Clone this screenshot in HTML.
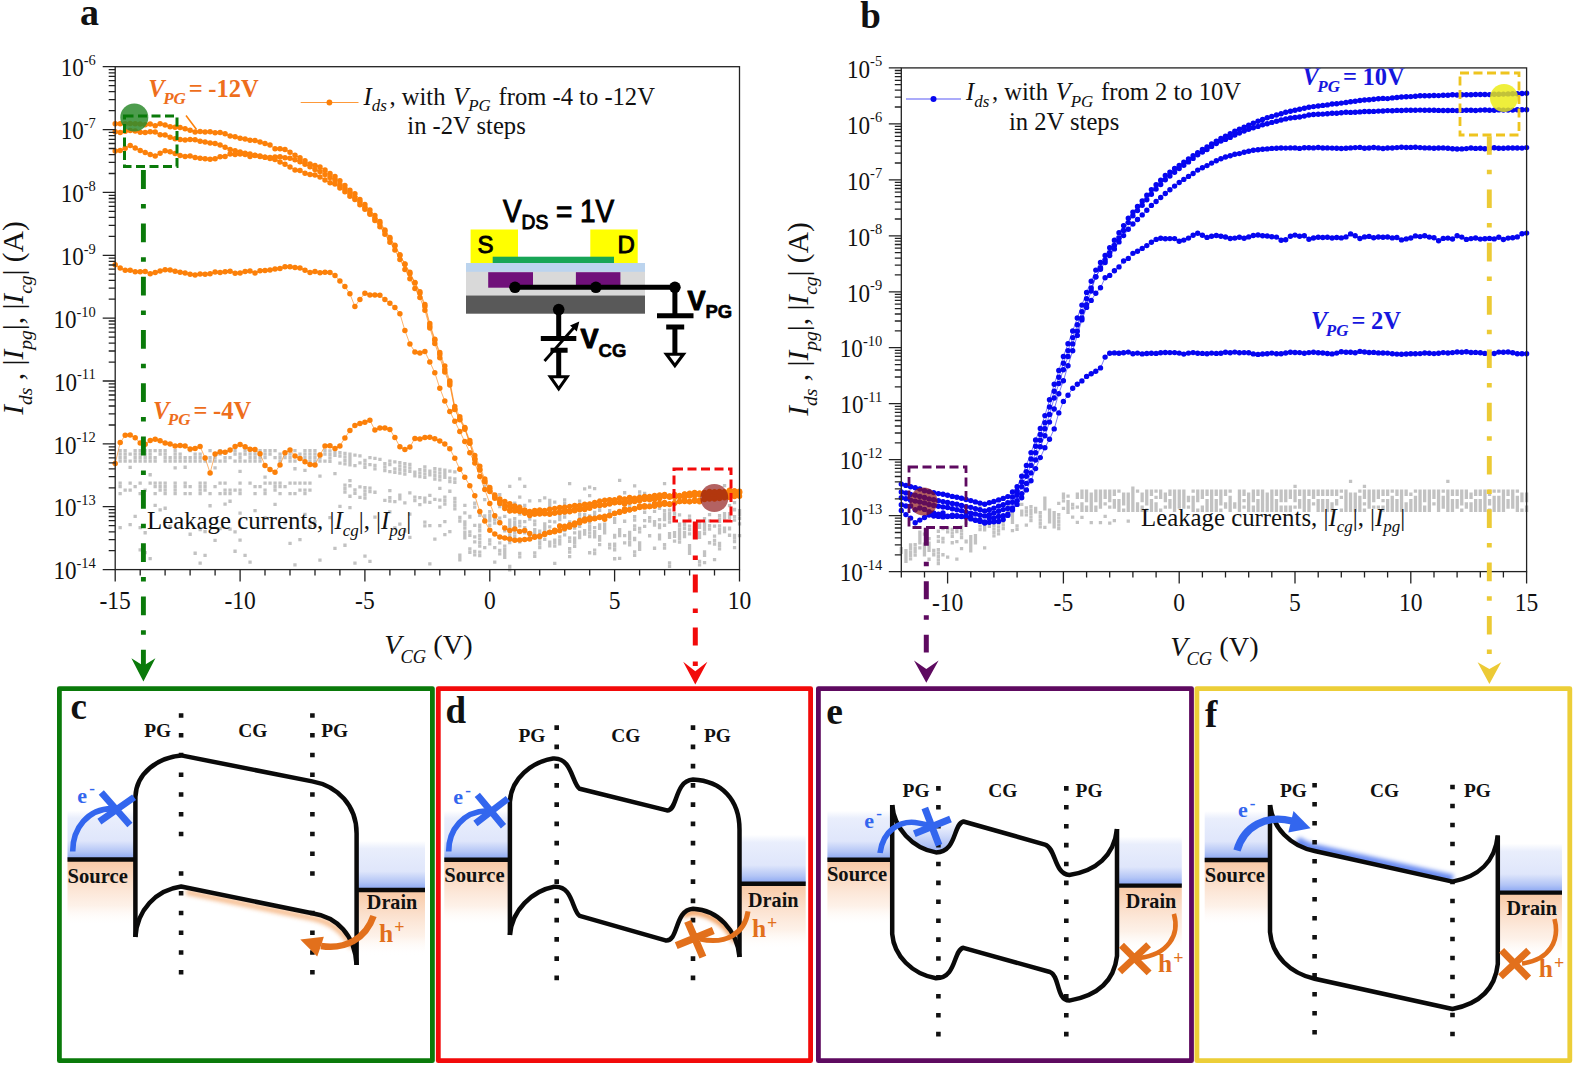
<!DOCTYPE html>
<html><head><meta charset="utf-8"><title>Figure</title>
<style>html,body{margin:0;padding:0;background:#fff}svg{display:block}text{font-family:"Liberation Serif",serif;fill:#111}</style>
</head><body>
<svg width="1575" height="1066" viewBox="0 0 1575 1066">
<g id="plotA">
<path d="M118.5 448.9h3.3v3.3h-3.3zM118.5 452.4h3.3v3.3h-3.3zM118.5 455.9h3.3v3.3h-3.3zM118.5 459.4h3.3v3.3h-3.3zM118.5 481.4h3.3v3.3h-3.3zM118.5 484.9h3.3v3.3h-3.3zM118.5 491.9h3.3v3.3h-3.3zM118.5 525.9h3.3v3.3h-3.3zM123.5 448.9h3.3v3.3h-3.3zM123.5 452.4h3.3v3.3h-3.3zM123.5 455.9h3.3v3.3h-3.3zM123.5 459.4h3.3v3.3h-3.3zM123.5 488.4h3.3v3.3h-3.3zM128.5 452.4h3.3v3.3h-3.3zM128.5 459.4h3.3v3.3h-3.3zM128.5 465.8h3.3v3.3h-3.3zM128.5 481.4h3.3v3.3h-3.3zM128.5 488.4h3.3v3.3h-3.3zM128.5 522.9h3.3v3.3h-3.3zM133.5 448.9h3.3v3.3h-3.3zM133.5 452.4h3.3v3.3h-3.3zM133.5 455.9h3.3v3.3h-3.3zM133.5 459.4h3.3v3.3h-3.3zM133.5 484.9h3.3v3.3h-3.3zM133.5 514.7h3.3v3.3h-3.3zM138.5 448.9h3.3v3.3h-3.3zM138.5 452.4h3.3v3.3h-3.3zM138.5 455.9h3.3v3.3h-3.3zM138.5 459.4h3.3v3.3h-3.3zM138.5 481.4h3.3v3.3h-3.3zM138.5 491.9h3.3v3.3h-3.3zM138.5 525.9h3.3v3.3h-3.3zM138.5 548.3h3.3v3.3h-3.3zM143.5 448.9h3.3v3.3h-3.3zM143.5 452.4h3.3v3.3h-3.3zM143.5 455.9h3.3v3.3h-3.3zM143.5 459.4h3.3v3.3h-3.3zM143.5 488.4h3.3v3.3h-3.3zM143.5 531.1h3.3v3.3h-3.3zM143.5 550.9h3.3v3.3h-3.3zM148.5 448.9h3.3v3.3h-3.3zM148.5 452.4h3.3v3.3h-3.3zM148.5 455.9h3.3v3.3h-3.3zM148.5 459.4h3.3v3.3h-3.3zM148.5 473.1h3.3v3.3h-3.3zM148.5 481.4h3.3v3.3h-3.3zM148.5 556.9h3.3v3.3h-3.3zM153.5 448.9h3.3v3.3h-3.3zM153.5 455.9h3.3v3.3h-3.3zM153.5 459.4h3.3v3.3h-3.3zM153.5 481.4h3.3v3.3h-3.3zM153.5 484.9h3.3v3.3h-3.3zM153.5 491.9h3.3v3.3h-3.3zM153.5 503.7h3.3v3.3h-3.3zM158.5 448.9h3.3v3.3h-3.3zM158.5 452.4h3.3v3.3h-3.3zM158.5 481.4h3.3v3.3h-3.3zM158.5 484.9h3.3v3.3h-3.3zM158.5 488.4h3.3v3.3h-3.3zM158.5 508.3h3.3v3.3h-3.3zM163.5 448.9h3.3v3.3h-3.3zM163.5 452.4h3.3v3.3h-3.3zM163.5 455.9h3.3v3.3h-3.3zM163.5 459.4h3.3v3.3h-3.3zM163.5 481.4h3.3v3.3h-3.3zM163.5 484.9h3.3v3.3h-3.3zM163.5 488.4h3.3v3.3h-3.3zM163.5 491.9h3.3v3.3h-3.3zM163.5 519.4h3.3v3.3h-3.3zM163.5 506.6h3.3v3.3h-3.3zM168.5 455.9h3.3v3.3h-3.3zM168.5 459.4h3.3v3.3h-3.3zM168.5 524.7h3.3v3.3h-3.3zM173.5 448.9h3.3v3.3h-3.3zM173.5 452.4h3.3v3.3h-3.3zM173.5 455.9h3.3v3.3h-3.3zM173.5 459.4h3.3v3.3h-3.3zM173.5 466.3h3.3v3.3h-3.3zM173.5 481.4h3.3v3.3h-3.3zM173.5 484.9h3.3v3.3h-3.3zM173.5 488.4h3.3v3.3h-3.3zM173.5 491.9h3.3v3.3h-3.3zM178.5 452.4h3.3v3.3h-3.3zM178.5 455.9h3.3v3.3h-3.3zM178.5 459.4h3.3v3.3h-3.3zM183.5 455.9h3.3v3.3h-3.3zM183.5 459.4h3.3v3.3h-3.3zM183.5 465.6h3.3v3.3h-3.3zM183.5 481.4h3.3v3.3h-3.3zM183.5 484.9h3.3v3.3h-3.3zM183.5 491.9h3.3v3.3h-3.3zM188.5 448.9h3.3v3.3h-3.3zM188.5 455.9h3.3v3.3h-3.3zM188.5 459.4h3.3v3.3h-3.3zM188.5 484.9h3.3v3.3h-3.3zM188.5 491.9h3.3v3.3h-3.3zM188.5 532.6h3.3v3.3h-3.3zM193.5 452.4h3.3v3.3h-3.3zM193.5 455.9h3.3v3.3h-3.3zM193.5 459.4h3.3v3.3h-3.3zM193.5 551.6h3.3v3.3h-3.3zM198.5 452.4h3.3v3.3h-3.3zM198.5 455.9h3.3v3.3h-3.3zM198.5 459.4h3.3v3.3h-3.3zM198.5 481.4h3.3v3.3h-3.3zM198.5 484.9h3.3v3.3h-3.3zM198.5 488.4h3.3v3.3h-3.3zM198.5 491.9h3.3v3.3h-3.3zM198.5 561.5h3.3v3.3h-3.3zM198.5 527.9h3.3v3.3h-3.3zM203.4 459.4h3.3v3.3h-3.3zM203.4 481.4h3.3v3.3h-3.3zM203.4 484.9h3.3v3.3h-3.3zM203.4 488.4h3.3v3.3h-3.3zM203.4 553.8h3.3v3.3h-3.3zM203.4 530h3.3v3.3h-3.3zM208.4 448.9h3.3v3.3h-3.3zM208.4 455.9h3.3v3.3h-3.3zM208.4 459.4h3.3v3.3h-3.3zM208.4 491.9h3.3v3.3h-3.3zM208.4 504.1h3.3v3.3h-3.3zM213.4 452.4h3.3v3.3h-3.3zM213.4 455.9h3.3v3.3h-3.3zM213.4 459.4h3.3v3.3h-3.3zM213.4 466.3h3.3v3.3h-3.3zM213.4 484.9h3.3v3.3h-3.3zM213.4 538.7h3.3v3.3h-3.3zM218.4 448.9h3.3v3.3h-3.3zM218.4 452.4h3.3v3.3h-3.3zM218.4 459.4h3.3v3.3h-3.3zM218.4 481.4h3.3v3.3h-3.3zM218.4 491.9h3.3v3.3h-3.3zM218.4 527h3.3v3.3h-3.3zM223.4 455.9h3.3v3.3h-3.3zM223.4 459.4h3.3v3.3h-3.3zM223.4 481.4h3.3v3.3h-3.3zM223.4 488.4h3.3v3.3h-3.3zM223.4 491.9h3.3v3.3h-3.3zM223.4 502.4h3.3v3.3h-3.3zM228.4 448.9h3.3v3.3h-3.3zM228.4 455.9h3.3v3.3h-3.3zM228.4 488.4h3.3v3.3h-3.3zM228.4 491.9h3.3v3.3h-3.3zM228.4 499.6h3.3v3.3h-3.3zM228.4 527.4h3.3v3.3h-3.3zM233.4 448.9h3.3v3.3h-3.3zM233.4 452.4h3.3v3.3h-3.3zM233.4 459.4h3.3v3.3h-3.3zM233.4 488.4h3.3v3.3h-3.3zM233.4 530.2h3.3v3.3h-3.3zM233.4 549.6h3.3v3.3h-3.3zM238.4 452.4h3.3v3.3h-3.3zM238.4 455.9h3.3v3.3h-3.3zM238.4 459.4h3.3v3.3h-3.3zM238.4 469.8h3.3v3.3h-3.3zM238.4 481.4h3.3v3.3h-3.3zM238.4 488.4h3.3v3.3h-3.3zM238.4 491.9h3.3v3.3h-3.3zM238.4 538.4h3.3v3.3h-3.3zM238.4 511.5h3.3v3.3h-3.3zM243.4 448.9h3.3v3.3h-3.3zM243.4 452.4h3.3v3.3h-3.3zM243.4 459.4h3.3v3.3h-3.3zM243.4 553.8h3.3v3.3h-3.3zM248.4 448.9h3.3v3.3h-3.3zM248.4 452.4h3.3v3.3h-3.3zM248.4 455.9h3.3v3.3h-3.3zM248.4 459.4h3.3v3.3h-3.3zM248.4 481.4h3.3v3.3h-3.3zM248.4 560.4h3.3v3.3h-3.3zM253.4 448.9h3.3v3.3h-3.3zM253.4 452.4h3.3v3.3h-3.3zM253.4 455.9h3.3v3.3h-3.3zM253.4 459.4h3.3v3.3h-3.3zM253.4 484.9h3.3v3.3h-3.3zM253.4 491.9h3.3v3.3h-3.3zM253.4 509h3.3v3.3h-3.3zM258.4 448.9h3.3v3.3h-3.3zM258.4 452.4h3.3v3.3h-3.3zM258.4 455.9h3.3v3.3h-3.3zM258.4 459.4h3.3v3.3h-3.3zM258.4 484.9h3.3v3.3h-3.3zM263.4 448.9h3.3v3.3h-3.3zM263.4 452.4h3.3v3.3h-3.3zM263.4 455.9h3.3v3.3h-3.3zM263.4 475.4h3.3v3.3h-3.3zM263.4 481.4h3.3v3.3h-3.3zM263.4 488.4h3.3v3.3h-3.3zM263.4 491.9h3.3v3.3h-3.3zM263.4 516.2h3.3v3.3h-3.3zM268.4 448.9h3.3v3.3h-3.3zM268.4 452.4h3.3v3.3h-3.3zM268.4 481.4h3.3v3.3h-3.3zM273.4 448.9h3.3v3.3h-3.3zM273.4 455.9h3.3v3.3h-3.3zM273.4 481.4h3.3v3.3h-3.3zM273.4 484.9h3.3v3.3h-3.3zM273.4 488.4h3.3v3.3h-3.3zM273.4 502.7h3.3v3.3h-3.3zM278.4 452.4h3.3v3.3h-3.3zM278.4 455.9h3.3v3.3h-3.3zM278.4 459.4h3.3v3.3h-3.3zM278.4 481.4h3.3v3.3h-3.3zM278.4 484.9h3.3v3.3h-3.3zM278.4 491.9h3.3v3.3h-3.3zM283.4 452.4h3.3v3.3h-3.3zM283.4 455.9h3.3v3.3h-3.3zM283.4 484.9h3.3v3.3h-3.3zM283.4 521.3h3.3v3.3h-3.3zM288.4 448.9h3.3v3.3h-3.3zM288.4 452.4h3.3v3.3h-3.3zM288.4 455.9h3.3v3.3h-3.3zM288.4 459.4h3.3v3.3h-3.3zM288.4 481.4h3.3v3.3h-3.3zM288.4 491.9h3.3v3.3h-3.3zM288.4 541.7h3.3v3.3h-3.3zM293.3 448.9h3.3v3.3h-3.3zM293.3 459.4h3.3v3.3h-3.3zM293.3 467.1h3.3v3.3h-3.3zM293.3 481.4h3.3v3.3h-3.3zM293.3 491.9h3.3v3.3h-3.3zM293.3 563.2h3.3v3.3h-3.3zM298.3 452.4h3.3v3.3h-3.3zM298.3 455.9h3.3v3.3h-3.3zM298.3 481.4h3.3v3.3h-3.3zM298.3 488.4h3.3v3.3h-3.3zM298.3 537.9h3.3v3.3h-3.3zM303.3 448.9h3.3v3.3h-3.3zM303.3 452.4h3.3v3.3h-3.3zM303.3 455.9h3.3v3.3h-3.3zM303.3 459.4h3.3v3.3h-3.3zM303.3 468.7h3.3v3.3h-3.3zM303.3 481.4h3.3v3.3h-3.3zM303.3 488.4h3.3v3.3h-3.3zM303.3 491.9h3.3v3.3h-3.3zM303.3 512.7h3.3v3.3h-3.3zM308.3 448.9h3.3v3.3h-3.3zM308.3 452.4h3.3v3.3h-3.3zM308.3 455.9h3.3v3.3h-3.3zM308.3 459.4h3.3v3.3h-3.3zM308.3 481.4h3.3v3.3h-3.3zM308.3 488.4h3.3v3.3h-3.3zM308.3 524.7h3.3v3.3h-3.3zM313.3 448.9h3.3v3.3h-3.3zM313.3 452.4h3.3v3.3h-3.3zM313.3 455.9h3.3v3.3h-3.3zM313.3 459.4h3.3v3.3h-3.3zM313.3 524.1h3.3v3.3h-3.3zM313.3 519.9h3.3v3.3h-3.3zM318.3 452.4h3.3v3.3h-3.3zM318.3 455.9h3.3v3.3h-3.3zM318.3 459.4h3.3v3.3h-3.3zM318.3 474.4h3.3v3.3h-3.3zM318.3 558.4h3.3v3.3h-3.3zM323.3 448.9h3.3v3.3h-3.3zM323.3 452.4h3.3v3.3h-3.3zM323.3 459.4h3.3v3.3h-3.3zM328.3 449.3h3.3v3.3h-3.3zM328.3 452.8h3.3v3.3h-3.3zM328.3 456.3h3.3v3.3h-3.3zM328.3 459.8h3.3v3.3h-3.3zM328.3 516h3.3v3.3h-3.3zM333.3 450.1h3.3v3.3h-3.3zM333.3 453.6h3.3v3.3h-3.3zM333.3 471.9h3.3v3.3h-3.3zM333.3 546.7h3.3v3.3h-3.3zM338.3 451h3.3v3.3h-3.3zM338.3 454.5h3.3v3.3h-3.3zM338.3 461.5h3.3v3.3h-3.3zM338.3 504.8h3.3v3.3h-3.3zM343.3 451.8h3.3v3.3h-3.3zM343.3 455.3h3.3v3.3h-3.3zM343.3 458.8h3.3v3.3h-3.3zM343.3 462.3h3.3v3.3h-3.3zM343.3 483.5h3.3v3.3h-3.3zM343.3 487h3.3v3.3h-3.3zM343.3 490.5h3.3v3.3h-3.3zM343.3 543.6h3.3v3.3h-3.3zM348.3 452.6h3.3v3.3h-3.3zM348.3 456.1h3.3v3.3h-3.3zM348.3 459.6h3.3v3.3h-3.3zM348.3 463.1h3.3v3.3h-3.3zM348.3 478.9h3.3v3.3h-3.3zM348.3 484.1h3.3v3.3h-3.3zM348.3 494.6h3.3v3.3h-3.3zM348.3 505.9h3.3v3.3h-3.3zM353.3 453.5h3.3v3.3h-3.3zM353.3 464h3.3v3.3h-3.3zM353.3 488.2h3.3v3.3h-3.3zM353.3 491.7h3.3v3.3h-3.3zM353.3 561.4h3.3v3.3h-3.3zM358.3 454.3h3.3v3.3h-3.3zM358.3 461.3h3.3v3.3h-3.3zM358.3 485.2h3.3v3.3h-3.3zM358.3 495.8h3.3v3.3h-3.3zM363.3 458.7h3.3v3.3h-3.3zM363.3 462.2h3.3v3.3h-3.3zM363.3 465.7h3.3v3.3h-3.3zM363.3 485.9h3.3v3.3h-3.3zM363.3 489.4h3.3v3.3h-3.3zM363.3 492.9h3.3v3.3h-3.3zM363.3 496.4h3.3v3.3h-3.3zM363.3 554.5h3.3v3.3h-3.3zM368.3 456h3.3v3.3h-3.3zM368.3 463h3.3v3.3h-3.3zM368.3 486.5h3.3v3.3h-3.3zM368.3 490h3.3v3.3h-3.3zM368.3 559.8h3.3v3.3h-3.3zM373.3 456.8h3.3v3.3h-3.3zM373.3 463.8h3.3v3.3h-3.3zM373.3 467.3h3.3v3.3h-3.3zM373.3 490.6h3.3v3.3h-3.3zM373.3 515.5h3.3v3.3h-3.3zM378.3 457.7h3.3v3.3h-3.3zM383.2 462h3.3v3.3h-3.3zM383.2 465.5h3.3v3.3h-3.3zM383.2 469h3.3v3.3h-3.3zM383.2 498.8h3.3v3.3h-3.3zM383.2 525.6h3.3v3.3h-3.3zM388.2 459.4h3.3v3.3h-3.3zM388.2 462.9h3.3v3.3h-3.3zM388.2 469.9h3.3v3.3h-3.3zM388.2 488.9h3.3v3.3h-3.3zM388.2 495.9h3.3v3.3h-3.3zM388.2 499.4h3.3v3.3h-3.3zM388.2 510.2h3.3v3.3h-3.3zM393.2 460.2h3.3v3.3h-3.3zM393.2 467.2h3.3v3.3h-3.3zM393.2 470.7h3.3v3.3h-3.3zM393.2 500h3.3v3.3h-3.3zM393.2 526.2h3.3v3.3h-3.3zM398.2 461h3.3v3.3h-3.3zM398.2 464.5h3.3v3.3h-3.3zM398.2 468h3.3v3.3h-3.3zM398.2 471.5h3.3v3.3h-3.3zM398.2 493.6h3.3v3.3h-3.3zM398.2 497.1h3.3v3.3h-3.3zM398.2 522.5h3.3v3.3h-3.3zM403.2 461.9h3.3v3.3h-3.3zM403.2 465.4h3.3v3.3h-3.3zM403.2 468.9h3.3v3.3h-3.3zM403.2 472.4h3.3v3.3h-3.3zM403.2 501.2h3.3v3.3h-3.3zM403.2 529.5h3.3v3.3h-3.3zM408.2 462.7h3.3v3.3h-3.3zM408.2 466.2h3.3v3.3h-3.3zM408.2 469.7h3.3v3.3h-3.3zM408.2 491.2h3.3v3.3h-3.3zM408.2 535.7h3.3v3.3h-3.3zM408.2 512.4h3.3v3.3h-3.3zM413.2 470.6h3.3v3.3h-3.3zM413.2 474.1h3.3v3.3h-3.3zM413.2 495.4h3.3v3.3h-3.3zM413.2 498.9h3.3v3.3h-3.3zM418.2 467.9h3.3v3.3h-3.3zM418.2 471.4h3.3v3.3h-3.3zM418.2 474.9h3.3v3.3h-3.3zM418.2 496h3.3v3.3h-3.3zM418.2 503h3.3v3.3h-3.3zM423.2 465.2h3.3v3.3h-3.3zM423.2 468.7h3.3v3.3h-3.3zM423.2 472.2h3.3v3.3h-3.3zM423.2 475.7h3.3v3.3h-3.3zM423.2 496.6h3.3v3.3h-3.3zM423.2 500.1h3.3v3.3h-3.3zM423.2 520.5h3.3v3.3h-3.3zM423.2 524.2h3.3v3.3h-3.3zM428.2 469.6h3.3v3.3h-3.3zM428.2 473.1h3.3v3.3h-3.3zM428.2 493.7h3.3v3.3h-3.3zM428.2 500.7h3.3v3.3h-3.3zM428.2 523.9h3.3v3.3h-3.3zM428.2 562.2h3.3v3.3h-3.3zM433.2 466.9h3.3v3.3h-3.3zM433.2 470.4h3.3v3.3h-3.3zM433.2 473.9h3.3v3.3h-3.3zM433.2 477.4h3.3v3.3h-3.3zM433.2 497.8h3.3v3.3h-3.3zM433.2 537.4h3.3v3.3h-3.3zM438.2 467.8h3.3v3.3h-3.3zM438.2 471.2h3.3v3.3h-3.3zM438.2 474.8h3.3v3.3h-3.3zM438.2 478.2h3.3v3.3h-3.3zM438.2 486.8h3.3v3.3h-3.3zM438.2 498.4h3.3v3.3h-3.3zM438.2 505.4h3.3v3.3h-3.3zM438.2 524h3.3v3.3h-3.3zM443.2 468.6h3.3v3.3h-3.3zM443.2 472.1h3.3v3.3h-3.3zM443.2 475.6h3.3v3.3h-3.3zM443.2 495.5h3.3v3.3h-3.3zM443.2 499h3.3v3.3h-3.3zM443.2 502.5h3.3v3.3h-3.3zM443.2 520h3.3v3.3h-3.3zM443.2 532.9h3.3v3.3h-3.3zM448.2 469.4h3.3v3.3h-3.3zM448.2 476.4h3.3v3.3h-3.3zM448.2 479.9h3.3v3.3h-3.3zM448.2 489.6h3.3v3.3h-3.3zM448.2 529.9h3.3v3.3h-3.3zM453.2 470.3h3.3v3.3h-3.3zM453.2 477.3h3.3v3.3h-3.3zM453.2 480.8h3.3v3.3h-3.3zM453.2 496.7h3.3v3.3h-3.3zM453.2 500.2h3.3v3.3h-3.3zM453.2 503.7h3.3v3.3h-3.3zM453.2 507.2h3.3v3.3h-3.3zM458.2 515.8h3.3v3.3h-3.3zM458.2 519.3h3.3v3.3h-3.3zM458.2 553.4h3.3v3.3h-3.3zM458.2 556.9h3.3v3.3h-3.3zM458.2 554.6h3.3v3.3h-3.3zM458.2 558.1h3.3v3.3h-3.3zM458.2 519.4h3.3v3.3h-3.3zM463.2 503.7h3.3v3.3h-3.3zM463.2 511.3h3.3v3.3h-3.3zM463.2 523h3.3v3.3h-3.3zM463.2 526.5h3.3v3.3h-3.3zM463.2 536.2h3.3v3.3h-3.3zM463.2 530.8h3.3v3.3h-3.3zM463.2 534.3h3.3v3.3h-3.3zM463.2 530.5h3.3v3.3h-3.3zM463.2 534h3.3v3.3h-3.3zM463.2 520.2h3.3v3.3h-3.3zM468.2 514.7h3.3v3.3h-3.3zM468.2 547.2h3.3v3.3h-3.3zM468.2 550.7h3.3v3.3h-3.3zM468.2 515.4h3.3v3.3h-3.3zM468.2 530.2h3.3v3.3h-3.3zM468.2 533.7h3.3v3.3h-3.3zM473.1 549.7h3.3v3.3h-3.3zM473.1 553.2h3.3v3.3h-3.3zM473.1 535.3h3.3v3.3h-3.3zM473.1 540.3h3.3v3.3h-3.3zM473.1 501.6h3.3v3.3h-3.3zM473.1 505.4h3.3v3.3h-3.3zM473.1 523.8h3.3v3.3h-3.3zM478.1 540.9h3.3v3.3h-3.3zM478.1 544.4h3.3v3.3h-3.3zM478.1 525h3.3v3.3h-3.3zM478.1 528.5h3.3v3.3h-3.3zM478.1 550.4h3.3v3.3h-3.3zM478.1 553.9h3.3v3.3h-3.3zM478.1 533.8h3.3v3.3h-3.3zM478.1 537.3h3.3v3.3h-3.3zM478.1 513.6h3.3v3.3h-3.3zM478.1 523.6h3.3v3.3h-3.3zM478.1 529.2h3.3v3.3h-3.3zM483.1 514.2h3.3v3.3h-3.3zM483.1 517.7h3.3v3.3h-3.3zM483.1 497.9h3.3v3.3h-3.3zM483.1 518h3.3v3.3h-3.3zM483.1 545.9h3.3v3.3h-3.3zM483.1 515.1h3.3v3.3h-3.3zM483.1 518.6h3.3v3.3h-3.3zM483.1 484.8h3.3v3.3h-3.3zM488.1 510h3.3v3.3h-3.3zM488.1 513.5h3.3v3.3h-3.3zM488.1 523.6h3.3v3.3h-3.3zM488.1 513.5h3.3v3.3h-3.3zM488.1 538.3h3.3v3.3h-3.3zM488.1 538.7h3.3v3.3h-3.3zM488.1 542.2h3.3v3.3h-3.3zM488.1 515.8h3.3v3.3h-3.3zM488.1 519.3h3.3v3.3h-3.3zM488.1 514.5h3.3v3.3h-3.3zM488.1 518h3.3v3.3h-3.3zM493.1 514.1h3.3v3.3h-3.3zM493.1 517.6h3.3v3.3h-3.3zM493.1 546h3.3v3.3h-3.3zM493.1 518h3.3v3.3h-3.3zM493.1 521.5h3.3v3.3h-3.3zM493.1 560.4h3.3v3.3h-3.3zM493.1 513.3h3.3v3.3h-3.3zM498.1 505h3.3v3.3h-3.3zM498.1 541.2h3.3v3.3h-3.3zM498.1 548.7h3.3v3.3h-3.3zM498.1 552.2h3.3v3.3h-3.3zM498.1 516.5h3.3v3.3h-3.3zM498.1 520h3.3v3.3h-3.3zM498.1 492.9h3.3v3.3h-3.3zM503.1 550.3h3.3v3.3h-3.3zM503.1 553.8h3.3v3.3h-3.3zM503.1 544.5h3.3v3.3h-3.3zM503.1 548h3.3v3.3h-3.3zM503.1 514.8h3.3v3.3h-3.3zM503.1 552.1h3.3v3.3h-3.3zM503.1 555.6h3.3v3.3h-3.3zM503.1 529.2h3.3v3.3h-3.3zM508.1 518.6h3.3v3.3h-3.3zM508.1 522.1h3.3v3.3h-3.3zM508.1 564.7h3.3v3.3h-3.3zM508.1 568.2h3.3v3.3h-3.3zM508.1 535.9h3.3v3.3h-3.3zM508.1 540.9h3.3v3.3h-3.3zM508.1 521.6h3.3v3.3h-3.3zM508.1 525.1h3.3v3.3h-3.3zM508.1 530.3h3.3v3.3h-3.3zM508.1 533.8h3.3v3.3h-3.3zM508.1 484.8h3.3v3.3h-3.3zM513.1 501.4h3.3v3.3h-3.3zM513.1 504.9h3.3v3.3h-3.3zM513.1 521h3.3v3.3h-3.3zM513.1 531.2h3.3v3.3h-3.3zM513.1 534.7h3.3v3.3h-3.3zM513.1 509.4h3.3v3.3h-3.3zM513.1 521.6h3.3v3.3h-3.3zM513.1 525.1h3.3v3.3h-3.3zM513.1 517.1h3.3v3.3h-3.3zM513.1 517.4h3.3v3.3h-3.3zM518.1 495.4h3.3v3.3h-3.3zM518.1 540.1h3.3v3.3h-3.3zM518.1 520.8h3.3v3.3h-3.3zM518.1 524.3h3.3v3.3h-3.3zM518.1 551.7h3.3v3.3h-3.3zM518.1 555.2h3.3v3.3h-3.3zM518.1 508.9h3.3v3.3h-3.3zM518.1 512.4h3.3v3.3h-3.3zM518.1 504h3.3v3.3h-3.3zM518.1 519.7h3.3v3.3h-3.3zM518.1 477.2h3.3v3.3h-3.3zM523.1 531.3h3.3v3.3h-3.3zM523.1 503.8h3.3v3.3h-3.3zM523.1 520h3.3v3.3h-3.3zM523.1 508.2h3.3v3.3h-3.3zM523.1 511.7h3.3v3.3h-3.3zM523.1 526h3.3v3.3h-3.3zM523.1 484.7h3.3v3.3h-3.3zM528.1 516.9h3.3v3.3h-3.3zM528.1 499.2h3.3v3.3h-3.3zM528.1 517.5h3.3v3.3h-3.3zM528.1 531.1h3.3v3.3h-3.3zM528.1 534.6h3.3v3.3h-3.3zM528.1 534.8h3.3v3.3h-3.3zM533.1 530.3h3.3v3.3h-3.3zM533.1 511.3h3.3v3.3h-3.3zM533.1 527.9h3.3v3.3h-3.3zM533.1 531.4h3.3v3.3h-3.3zM533.1 551.3h3.3v3.3h-3.3zM533.1 554.8h3.3v3.3h-3.3zM533.1 519.5h3.3v3.3h-3.3zM533.1 523h3.3v3.3h-3.3zM538.1 498.9h3.3v3.3h-3.3zM538.1 537.3h3.3v3.3h-3.3zM538.1 540.8h3.3v3.3h-3.3zM538.1 542.5h3.3v3.3h-3.3zM538.1 546h3.3v3.3h-3.3zM538.1 529.4h3.3v3.3h-3.3zM538.1 530.6h3.3v3.3h-3.3zM538.1 534.1h3.3v3.3h-3.3zM543.1 522.2h3.3v3.3h-3.3zM543.1 523.1h3.3v3.3h-3.3zM543.1 526.6h3.3v3.3h-3.3zM543.1 496.3h3.3v3.3h-3.3zM543.1 524.7h3.3v3.3h-3.3zM543.1 528.2h3.3v3.3h-3.3zM543.1 537.7h3.3v3.3h-3.3zM548.1 540.6h3.3v3.3h-3.3zM548.1 544.1h3.3v3.3h-3.3zM548.1 501.8h3.3v3.3h-3.3zM548.1 505.3h3.3v3.3h-3.3zM548.1 519.7h3.3v3.3h-3.3zM548.1 525.3h3.3v3.3h-3.3zM548.1 498.8h3.3v3.3h-3.3zM548.1 502.3h3.3v3.3h-3.3zM553.1 538.5h3.3v3.3h-3.3zM553.1 500.4h3.3v3.3h-3.3zM553.1 520.3h3.3v3.3h-3.3zM553.1 507.5h3.3v3.3h-3.3zM553.1 561.8h3.3v3.3h-3.3zM553.1 540.9h3.3v3.3h-3.3zM553.1 544.4h3.3v3.3h-3.3zM558.1 516.2h3.3v3.3h-3.3zM558.1 539.6h3.3v3.3h-3.3zM558.1 535.3h3.3v3.3h-3.3zM558.1 538.8h3.3v3.3h-3.3zM558.1 542.1h3.3v3.3h-3.3zM558.1 514.4h3.3v3.3h-3.3zM558.1 517.9h3.3v3.3h-3.3zM558.1 530h3.3v3.3h-3.3zM558.1 523.4h3.3v3.3h-3.3zM558.1 526.9h3.3v3.3h-3.3zM563 512h3.3v3.3h-3.3zM563 515.5h3.3v3.3h-3.3zM563 525.4h3.3v3.3h-3.3zM563 528.9h3.3v3.3h-3.3zM563 498.3h3.3v3.3h-3.3zM563 501.8h3.3v3.3h-3.3zM563 509.2h3.3v3.3h-3.3zM563 533.2h3.3v3.3h-3.3zM563 509.7h3.3v3.3h-3.3zM563 506h3.3v3.3h-3.3zM568 554.9h3.3v3.3h-3.3zM568 526h3.3v3.3h-3.3zM568 547h3.3v3.3h-3.3zM568 550.5h3.3v3.3h-3.3zM568 526.6h3.3v3.3h-3.3zM568 536.2h3.3v3.3h-3.3zM568 539.7h3.3v3.3h-3.3zM568 520.2h3.3v3.3h-3.3zM568 523.7h3.3v3.3h-3.3zM568 482h3.3v3.3h-3.3zM573 522.9h3.3v3.3h-3.3zM573 526.4h3.3v3.3h-3.3zM573 536.6h3.3v3.3h-3.3zM573 540.1h3.3v3.3h-3.3zM573 541.2h3.3v3.3h-3.3zM573 544.7h3.3v3.3h-3.3zM573 531.2h3.3v3.3h-3.3zM578 536h3.3v3.3h-3.3zM578 512.8h3.3v3.3h-3.3zM578 516.3h3.3v3.3h-3.3zM578 530.6h3.3v3.3h-3.3zM578 534.1h3.3v3.3h-3.3zM578 519.7h3.3v3.3h-3.3zM578 523.2h3.3v3.3h-3.3zM578 524.7h3.3v3.3h-3.3zM578 499.4h3.3v3.3h-3.3zM578 502.9h3.3v3.3h-3.3zM583 505.3h3.3v3.3h-3.3zM583 508.8h3.3v3.3h-3.3zM583 512.9h3.3v3.3h-3.3zM583 528.9h3.3v3.3h-3.3zM583 532.4h3.3v3.3h-3.3zM583 530.5h3.3v3.3h-3.3zM583 507.4h3.3v3.3h-3.3zM583 514h3.3v3.3h-3.3zM583 517.5h3.3v3.3h-3.3zM583 487.2h3.3v3.3h-3.3zM588 521.3h3.3v3.3h-3.3zM588 524.8h3.3v3.3h-3.3zM588 493.9h3.3v3.3h-3.3zM588 527.7h3.3v3.3h-3.3zM588 531.2h3.3v3.3h-3.3zM588 531.5h3.3v3.3h-3.3zM588 535h3.3v3.3h-3.3zM588 551.1h3.3v3.3h-3.3zM588 514.2h3.3v3.3h-3.3zM588 485.4h3.3v3.3h-3.3zM593 510.7h3.3v3.3h-3.3zM593 514.2h3.3v3.3h-3.3zM593 548.5h3.3v3.3h-3.3zM593 552h3.3v3.3h-3.3zM593 530h3.3v3.3h-3.3zM593 511.4h3.3v3.3h-3.3zM593 514.9h3.3v3.3h-3.3zM593 525.9h3.3v3.3h-3.3zM593 531.6h3.3v3.3h-3.3zM593 535.1h3.3v3.3h-3.3zM593 530h3.3v3.3h-3.3zM593 487h3.3v3.3h-3.3zM598 535h3.3v3.3h-3.3zM598 538.5h3.3v3.3h-3.3zM598 542.9h3.3v3.3h-3.3zM598 523.8h3.3v3.3h-3.3zM598 523.3h3.3v3.3h-3.3zM598 526.8h3.3v3.3h-3.3zM598 505.2h3.3v3.3h-3.3zM598 508.7h3.3v3.3h-3.3zM598 498.6h3.3v3.3h-3.3zM598 502.1h3.3v3.3h-3.3zM598 536.9h3.3v3.3h-3.3zM603 515.1h3.3v3.3h-3.3zM603 522.6h3.3v3.3h-3.3zM603 526.1h3.3v3.3h-3.3zM603 529.6h3.3v3.3h-3.3zM603 531.3h3.3v3.3h-3.3zM608 509.7h3.3v3.3h-3.3zM608 542.7h3.3v3.3h-3.3zM608 546.2h3.3v3.3h-3.3zM608 509.1h3.3v3.3h-3.3zM608 511.1h3.3v3.3h-3.3zM608 514.6h3.3v3.3h-3.3zM613 548.1h3.3v3.3h-3.3zM613 533.8h3.3v3.3h-3.3zM613 557.1h3.3v3.3h-3.3zM613 542.6h3.3v3.3h-3.3zM613 543.9h3.3v3.3h-3.3zM613 547.4h3.3v3.3h-3.3zM613 535.5h3.3v3.3h-3.3zM613 517.1h3.3v3.3h-3.3zM613 520.6h3.3v3.3h-3.3zM618 527.9h3.3v3.3h-3.3zM618 531.4h3.3v3.3h-3.3zM618 497.8h3.3v3.3h-3.3zM618 501.3h3.3v3.3h-3.3zM618 530.4h3.3v3.3h-3.3zM618 533.9h3.3v3.3h-3.3zM618 556.8h3.3v3.3h-3.3zM618 478.7h3.3v3.3h-3.3zM623 534h3.3v3.3h-3.3zM623 501.7h3.3v3.3h-3.3zM623 519.6h3.3v3.3h-3.3zM623 541.2h3.3v3.3h-3.3zM623 491.1h3.3v3.3h-3.3zM628 505.3h3.3v3.3h-3.3zM628 508.8h3.3v3.3h-3.3zM628 505.7h3.3v3.3h-3.3zM628 509.2h3.3v3.3h-3.3zM628 543.2h3.3v3.3h-3.3zM628 531h3.3v3.3h-3.3zM628 530.8h3.3v3.3h-3.3zM628 534.3h3.3v3.3h-3.3zM628 504.8h3.3v3.3h-3.3zM628 508.3h3.3v3.3h-3.3zM628 537.3h3.3v3.3h-3.3zM628 540.8h3.3v3.3h-3.3zM633 514.9h3.3v3.3h-3.3zM633 518.4h3.3v3.3h-3.3zM633 550.3h3.3v3.3h-3.3zM633 553.8h3.3v3.3h-3.3zM633 537.5h3.3v3.3h-3.3zM633 538h3.3v3.3h-3.3zM633 524.2h3.3v3.3h-3.3zM633 527.7h3.3v3.3h-3.3zM633 536.7h3.3v3.3h-3.3zM633 497.5h3.3v3.3h-3.3zM633 484.3h3.3v3.3h-3.3zM638 526.7h3.3v3.3h-3.3zM638 530.2h3.3v3.3h-3.3zM638 544.2h3.3v3.3h-3.3zM638 547.7h3.3v3.3h-3.3zM638 541.2h3.3v3.3h-3.3zM638 544.7h3.3v3.3h-3.3zM638 490.2h3.3v3.3h-3.3zM638 493.7h3.3v3.3h-3.3zM643 491.8h3.3v3.3h-3.3zM643 524.8h3.3v3.3h-3.3zM643 510.6h3.3v3.3h-3.3zM643 518.9h3.3v3.3h-3.3zM648 516h3.3v3.3h-3.3zM648 519.5h3.3v3.3h-3.3zM648 534.2h3.3v3.3h-3.3zM648 505.6h3.3v3.3h-3.3zM648 503.1h3.3v3.3h-3.3zM648 534.1h3.3v3.3h-3.3zM652.9 504.4h3.3v3.3h-3.3zM652.9 546.6h3.3v3.3h-3.3zM652.9 522.1h3.3v3.3h-3.3zM652.9 520h3.3v3.3h-3.3zM652.9 523.5h3.3v3.3h-3.3zM652.9 522.3h3.3v3.3h-3.3zM652.9 509.8h3.3v3.3h-3.3zM657.9 506.8h3.3v3.3h-3.3zM657.9 533.6h3.3v3.3h-3.3zM657.9 497.9h3.3v3.3h-3.3zM657.9 526h3.3v3.3h-3.3zM657.9 523.2h3.3v3.3h-3.3zM657.9 517.9h3.3v3.3h-3.3zM657.9 533.6h3.3v3.3h-3.3zM657.9 537.1h3.3v3.3h-3.3zM662.9 523.6h3.3v3.3h-3.3zM662.9 513.7h3.3v3.3h-3.3zM662.9 517.2h3.3v3.3h-3.3zM662.9 516.9h3.3v3.3h-3.3zM662.9 542.9h3.3v3.3h-3.3zM662.9 546.4h3.3v3.3h-3.3zM662.9 508.9h3.3v3.3h-3.3zM662.9 512.4h3.3v3.3h-3.3zM662.9 518h3.3v3.3h-3.3zM662.9 481.9h3.3v3.3h-3.3zM667.9 514.8h3.3v3.3h-3.3zM667.9 561.3h3.3v3.3h-3.3zM667.9 564.8h3.3v3.3h-3.3zM667.9 532.1h3.3v3.3h-3.3zM667.9 535.6h3.3v3.3h-3.3zM667.9 508.5h3.3v3.3h-3.3zM667.9 512h3.3v3.3h-3.3zM667.9 516.9h3.3v3.3h-3.3zM667.9 520.4h3.3v3.3h-3.3zM672.9 531.1h3.3v3.3h-3.3zM672.9 534.6h3.3v3.3h-3.3zM672.9 511.9h3.3v3.3h-3.3zM672.9 515.4h3.3v3.3h-3.3zM672.9 497.9h3.3v3.3h-3.3zM672.9 501.4h3.3v3.3h-3.3zM672.9 539.4h3.3v3.3h-3.3zM677.9 523.7h3.3v3.3h-3.3zM677.9 527.2h3.3v3.3h-3.3zM677.9 529.6h3.3v3.3h-3.3zM677.9 533.1h3.3v3.3h-3.3zM677.9 536.4h3.3v3.3h-3.3zM677.9 522.4h3.3v3.3h-3.3zM677.9 536.9h3.3v3.3h-3.3zM677.9 540.4h3.3v3.3h-3.3zM677.9 513.2h3.3v3.3h-3.3zM682.9 533.2h3.3v3.3h-3.3zM682.9 523.3h3.3v3.3h-3.3zM682.9 526.8h3.3v3.3h-3.3zM682.9 530.7h3.3v3.3h-3.3zM682.9 534.2h3.3v3.3h-3.3zM682.9 522h3.3v3.3h-3.3zM682.9 534.9h3.3v3.3h-3.3zM687.9 524.5h3.3v3.3h-3.3zM687.9 528h3.3v3.3h-3.3zM687.9 544h3.3v3.3h-3.3zM687.9 532.2h3.3v3.3h-3.3zM687.9 546.9h3.3v3.3h-3.3zM687.9 550.4h3.3v3.3h-3.3zM687.9 493.7h3.3v3.3h-3.3zM687.9 548.1h3.3v3.3h-3.3zM687.9 551.6h3.3v3.3h-3.3zM687.9 514.4h3.3v3.3h-3.3zM687.9 517.9h3.3v3.3h-3.3zM692.9 525.9h3.3v3.3h-3.3zM692.9 529.4h3.3v3.3h-3.3zM692.9 528.3h3.3v3.3h-3.3zM692.9 535.1h3.3v3.3h-3.3zM692.9 531.2h3.3v3.3h-3.3zM692.9 526h3.3v3.3h-3.3zM692.9 529.5h3.3v3.3h-3.3zM697.9 559.7h3.3v3.3h-3.3zM697.9 563.2h3.3v3.3h-3.3zM697.9 525.7h3.3v3.3h-3.3zM697.9 535.8h3.3v3.3h-3.3zM697.9 531.1h3.3v3.3h-3.3zM697.9 534.6h3.3v3.3h-3.3zM697.9 520.4h3.3v3.3h-3.3zM697.9 523.9h3.3v3.3h-3.3zM697.9 491.9h3.3v3.3h-3.3zM702.9 528.5h3.3v3.3h-3.3zM702.9 532h3.3v3.3h-3.3zM702.9 516.9h3.3v3.3h-3.3zM702.9 520.4h3.3v3.3h-3.3zM702.9 553.1h3.3v3.3h-3.3zM702.9 561h3.3v3.3h-3.3zM702.9 523.6h3.3v3.3h-3.3zM702.9 527.1h3.3v3.3h-3.3zM702.9 550.2h3.3v3.3h-3.3zM702.9 553.7h3.3v3.3h-3.3zM707.9 523.9h3.3v3.3h-3.3zM707.9 513h3.3v3.3h-3.3zM707.9 519.2h3.3v3.3h-3.3zM707.9 541.1h3.3v3.3h-3.3zM707.9 523.9h3.3v3.3h-3.3zM707.9 527.4h3.3v3.3h-3.3zM712.9 538.7h3.3v3.3h-3.3zM712.9 538.9h3.3v3.3h-3.3zM712.9 542.4h3.3v3.3h-3.3zM712.9 534.4h3.3v3.3h-3.3zM712.9 557.9h3.3v3.3h-3.3zM712.9 524.4h3.3v3.3h-3.3zM717.9 514h3.3v3.3h-3.3zM717.9 517.5h3.3v3.3h-3.3zM717.9 524.3h3.3v3.3h-3.3zM717.9 527.8h3.3v3.3h-3.3zM717.9 531.1h3.3v3.3h-3.3zM717.9 519.6h3.3v3.3h-3.3zM717.9 543.7h3.3v3.3h-3.3zM717.9 547.2h3.3v3.3h-3.3zM717.9 541.8h3.3v3.3h-3.3zM722.9 526.4h3.3v3.3h-3.3zM722.9 529.9h3.3v3.3h-3.3zM722.9 528.6h3.3v3.3h-3.3zM722.9 512.1h3.3v3.3h-3.3zM722.9 515.6h3.3v3.3h-3.3zM722.9 516.5h3.3v3.3h-3.3zM722.9 528.4h3.3v3.3h-3.3zM722.9 484h3.3v3.3h-3.3zM727.9 512.1h3.3v3.3h-3.3zM727.9 515.6h3.3v3.3h-3.3zM727.9 526.6h3.3v3.3h-3.3zM727.9 533.6h3.3v3.3h-3.3zM727.9 504h3.3v3.3h-3.3zM727.9 527.1h3.3v3.3h-3.3zM732.9 533.8h3.3v3.3h-3.3zM732.9 536.5h3.3v3.3h-3.3zM732.9 540h3.3v3.3h-3.3zM732.9 545.9h3.3v3.3h-3.3zM732.9 515h3.3v3.3h-3.3zM732.9 518.5h3.3v3.3h-3.3zM732.9 507.7h3.3v3.3h-3.3zM732.9 500.9h3.3v3.3h-3.3zM732.9 508.1h3.3v3.3h-3.3zM737.9 509.1h3.3v3.3h-3.3zM737.9 512.6h3.3v3.3h-3.3zM737.9 534h3.3v3.3h-3.3zM737.9 516.6h3.3v3.3h-3.3zM737.9 522.2h3.3v3.3h-3.3z" fill="#c2c2c2"/>
<path d="M115.2 463.5L120.2 442.6L125.2 435.3L130.2 435.1L135.2 437.8L140.2 443L145.2 444.3L150.2 440.6L155.2 439.2L160.1 440.7L165.1 443L170.1 444.1L175.1 446.1L180.1 445.5L185.1 446L190.1 449.1L195.1 448.4L200.1 446.6L205.1 457.9L210.1 472.9L215.1 453.9L220.1 451.9L225.1 452.3L230.1 450L235.1 446.6L240.1 444.4L245.1 446.7L250 449.2L255 449.4L260 453.8L265 465.4L270 469.4L275 472.3L280 465L285 452.8L290 450.1L295 456L300 458.5L305 461.8L310 464.4L315 464.9L320 454.9L325 446.1L330 445.7L335 448.5L339.9 445.9L344.9 437.9L349.9 430.5L354.9 425.6L359.9 423.4L364.9 422.3L369.9 420.3L374.9 430L379.9 428.1L384.9 427.9L389.9 429.6L394.9 437.5L399.9 446.8L404.9 449.4L409.9 447L414.9 438.4L419.9 439L424.9 437.5L429.8 437.2L434.8 438.8L439.8 441L444.8 444L449.8 448.8L454.8 458.3L459.8 469.2L464.8 477.3L469.8 485.7L474.8 495.7L479.8 511.5L484.8 521L489.8 530.2L494.8 533.9L499.8 537L504.8 537.9L509.8 539L514.8 540.3L519.7 539.9L524.7 539.6L529.7 538.9L534.7 537.3L539.7 535.9L544.7 534.5L549.7 532.6L554.7 531.7L559.7 530.4L564.7 528.6L569.7 526.9L574.7 524.9L579.7 522.8L584.7 521.1L589.7 519.8L594.7 518.8L599.7 517.6L604.7 516.2L609.6 515.2L614.6 513.6L619.6 512.4L624.6 511.3L629.6 509.8L634.6 508.4L639.6 507.6L644.6 507.1L649.6 506.6L654.6 506.2L659.6 505L664.6 504.3L669.6 503.7L674.6 502.8L679.6 501.6L684.6 501.5L689.6 501.6L694.6 501.2L699.5 500.2L704.5 499.5L709.5 499.1L714.5 499.1L719.5 498.4L724.5 497.7L729.5 497.4L734.5 496.6L739.5 496.3" fill="none" stroke="#fc8009" stroke-width="0.8" stroke-opacity="0.75"/>
<path d="M115.2 463.5h0M120.2 442.6h0M125.2 435.3h0M130.2 435.1h0M135.2 437.8h0M140.2 443h0M145.2 444.3h0M150.2 440.6h0M155.2 439.2h0M160.1 440.7h0M165.1 443h0M170.1 444.1h0M175.1 446.1h0M180.1 445.5h0M185.1 446h0M190.1 449.1h0M195.1 448.4h0M200.1 446.6h0M205.1 457.9h0M210.1 472.9h0M215.1 453.9h0M220.1 451.9h0M225.1 452.3h0M230.1 450h0M235.1 446.6h0M240.1 444.4h0M245.1 446.7h0M250 449.2h0M255 449.4h0M260 453.8h0M265 465.4h0M270 469.4h0M275 472.3h0M280 465h0M285 452.8h0M290 450.1h0M295 456h0M300 458.5h0M305 461.8h0M310 464.4h0M315 464.9h0M320 454.9h0M325 446.1h0M330 445.7h0M335 448.5h0M339.9 445.9h0M344.9 437.9h0M349.9 430.5h0M354.9 425.6h0M359.9 423.4h0M364.9 422.3h0M369.9 420.3h0M374.9 430h0M379.9 428.1h0M384.9 427.9h0M389.9 429.6h0M394.9 437.5h0M399.9 446.8h0M404.9 449.4h0M409.9 447h0M414.9 438.4h0M419.9 439h0M424.9 437.5h0M429.8 437.2h0M434.8 438.8h0M439.8 441h0M444.8 444h0M449.8 448.8h0M454.8 458.3h0M459.8 469.2h0M464.8 477.3h0M469.8 485.7h0M474.8 495.7h0M479.8 511.5h0M484.8 521h0M489.8 530.2h0M494.8 533.9h0M499.8 537h0M504.8 537.9h0M509.8 539h0M514.8 540.3h0M519.7 539.9h0M524.7 539.6h0M529.7 538.9h0M534.7 537.3h0M539.7 535.9h0M544.7 534.5h0M549.7 532.6h0M554.7 531.7h0M559.7 530.4h0M564.7 528.6h0M569.7 526.9h0M574.7 524.9h0M579.7 522.8h0M584.7 521.1h0M589.7 519.8h0M594.7 518.8h0M599.7 517.6h0M604.7 516.2h0M609.6 515.2h0M614.6 513.6h0M619.6 512.4h0M624.6 511.3h0M629.6 509.8h0M634.6 508.4h0M639.6 507.6h0M644.6 507.1h0M649.6 506.6h0M654.6 506.2h0M659.6 505h0M664.6 504.3h0M669.6 503.7h0M674.6 502.8h0M679.6 501.6h0M684.6 501.5h0M689.6 501.6h0M694.6 501.2h0M699.5 500.2h0M704.5 499.5h0M709.5 499.1h0M714.5 499.1h0M719.5 498.4h0M724.5 497.7h0M729.5 497.4h0M734.5 496.6h0M739.5 496.3h0" fill="none" stroke="#fc8009" stroke-width="5.5" stroke-linecap="round"/>
<path d="M115.2 264.7L120.2 268L125.2 270.3L130.2 270.2L135.2 271.8L140.2 271.8L145.2 271.5L150.2 273.7L155.2 272.5L160.1 271L165.1 269.7L170.1 269.9L175.1 271.2L180.1 272.2L185.1 273.1L190.1 274.3L195.1 274.9L200.1 274L205.1 274.3L210.1 273.7L215.1 271.9L220.1 272.4L225.1 271.8L230.1 271.2L235.1 273.2L240.1 273.1L245.1 271.5L250 271.1L255 272.9L260 270.8L265 270.5L270 269.9L275 269.1L280 268.5L285 266.7L290 266.7L295 267.5L300 268.1L305 270.2L310 272.6L315 271.5L320 272.8L325 272.2L330 272.4L335 275.4L339.9 280.9L344.9 286.6L349.9 293.8L354.9 306.5L359.9 299.4L364.9 293.2L369.9 295.1L374.9 295.1L379.9 295.3L384.9 299.4L389.9 303.3L394.9 307.4L399.9 313.7L404.9 330.5L409.9 343.9L414.9 351.9L419.9 353.1L424.9 351.6L429.8 361.9L434.8 372.7L439.8 388.3L444.8 400.9L449.8 411.4L454.8 421.3L459.8 431.5L464.8 441.6L469.8 452.8L474.8 463.1L479.8 476.6L484.8 489.5L489.8 503.4L494.8 515.8L499.8 522.8L504.8 527.9L509.8 530.4L514.8 528.9L519.7 531.6L524.7 530.6L529.7 533.5L534.7 536.6L539.7 536.6L544.7 533.5L549.7 532.2L554.7 530.2L559.7 526.1L564.7 526.3L569.7 524.7L574.7 523.1L579.7 520.4L584.7 519L589.7 518L594.7 518.3L599.7 516.9L604.7 519.2L609.6 515.7L614.6 513.2L619.6 511.4L624.6 509L629.6 509.7L634.6 508.9L639.6 506.1L644.6 505.7L649.6 506.4L654.6 503.6L659.6 503.3L664.6 502.4L669.6 504.5L674.6 503.3L679.6 501.5L684.6 500.1L689.6 501.8L694.6 500L699.5 501.8L704.5 498.2L709.5 497.5L714.5 496.7L719.5 495.5L724.5 495.1L729.5 495.7L734.5 494.3L739.5 492.3" fill="none" stroke="#fc8009" stroke-width="0.8" stroke-opacity="0.75"/>
<path d="M115.2 264.7h0M120.2 268h0M125.2 270.3h0M130.2 270.2h0M135.2 271.8h0M140.2 271.8h0M145.2 271.5h0M150.2 273.7h0M155.2 272.5h0M160.1 271h0M165.1 269.7h0M170.1 269.9h0M175.1 271.2h0M180.1 272.2h0M185.1 273.1h0M190.1 274.3h0M195.1 274.9h0M200.1 274h0M205.1 274.3h0M210.1 273.7h0M215.1 271.9h0M220.1 272.4h0M225.1 271.8h0M230.1 271.2h0M235.1 273.2h0M240.1 273.1h0M245.1 271.5h0M250 271.1h0M255 272.9h0M260 270.8h0M265 270.5h0M270 269.9h0M275 269.1h0M280 268.5h0M285 266.7h0M290 266.7h0M295 267.5h0M300 268.1h0M305 270.2h0M310 272.6h0M315 271.5h0M320 272.8h0M325 272.2h0M330 272.4h0M335 275.4h0M339.9 280.9h0M344.9 286.6h0M349.9 293.8h0M354.9 306.5h0M359.9 299.4h0M364.9 293.2h0M369.9 295.1h0M374.9 295.1h0M379.9 295.3h0M384.9 299.4h0M389.9 303.3h0M394.9 307.4h0M399.9 313.7h0M404.9 330.5h0M409.9 343.9h0M414.9 351.9h0M419.9 353.1h0M424.9 351.6h0M429.8 361.9h0M434.8 372.7h0M439.8 388.3h0M444.8 400.9h0M449.8 411.4h0M454.8 421.3h0M459.8 431.5h0M464.8 441.6h0M469.8 452.8h0M474.8 463.1h0M479.8 476.6h0M484.8 489.5h0M489.8 503.4h0M494.8 515.8h0M499.8 522.8h0M504.8 527.9h0M509.8 530.4h0M514.8 528.9h0M519.7 531.6h0M524.7 530.6h0M529.7 533.5h0M534.7 536.6h0M539.7 536.6h0M544.7 533.5h0M549.7 532.2h0M554.7 530.2h0M559.7 526.1h0M564.7 526.3h0M569.7 524.7h0M574.7 523.1h0M579.7 520.4h0M584.7 519h0M589.7 518h0M594.7 518.3h0M599.7 516.9h0M604.7 519.2h0M609.6 515.7h0M614.6 513.2h0M619.6 511.4h0M624.6 509h0M629.6 509.7h0M634.6 508.9h0M639.6 506.1h0M644.6 505.7h0M649.6 506.4h0M654.6 503.6h0M659.6 503.3h0M664.6 502.4h0M669.6 504.5h0M674.6 503.3h0M679.6 501.5h0M684.6 500.1h0M689.6 501.8h0M694.6 500h0M699.5 501.8h0M704.5 498.2h0M709.5 497.5h0M714.5 496.7h0M719.5 495.5h0M724.5 495.1h0M729.5 495.7h0M734.5 494.3h0M739.5 492.3h0" fill="none" stroke="#fc8009" stroke-width="5.5" stroke-linecap="round"/>
<path d="M115.2 150.9L120.2 150.6L125.2 148.2L130.2 145.5L135.2 148L140.2 150.5L145.2 152.6L150.2 154.6L155.2 156L160.1 153.3L165.1 150.8L170.1 151.8L175.1 153.4L180.1 155.4L185.1 156.5L190.1 156.1L195.1 157.6L200.1 158.3L205.1 158.8L210.1 159.2L215.1 158.7L220.1 156.7L225.1 156.6L230.1 154.1L235.1 154.4L240.1 154L245.1 154.5L250 156.4L255 155.2L260 156.6L265 157.2L270 158.4L275 159.5L280 161.9L285 164.3L290 167.1L295 170.1L300 170.5L305 173.3L310 174.4L315 174.9L320 176.9L325 180L330 182.8L335 184.1L339.9 187.9L344.9 191.8L349.9 196.3L354.9 199.6L359.9 204.7L364.9 209.2L369.9 214.3L374.9 220.6L379.9 226.7L384.9 234.2L389.9 242.3L394.9 250L399.9 259.5L404.9 269.4L409.9 278.8L414.9 288.6L419.9 297.5L424.9 310.3L429.8 327.9L434.8 343.5L439.8 357.7L444.8 372.1L449.8 385L454.8 409.2L459.8 419.2L464.8 428.3L469.8 443.3L474.8 458.9L479.8 469.6L484.8 481.3L489.8 491.4L494.8 498.2L499.8 503.5L504.8 508.5L509.8 511.1L514.8 511.1L519.7 511.5L524.7 513.2L529.7 515.5L534.7 514.3L539.7 513.9L544.7 513.3L549.7 514.3L554.7 512.9L559.7 512.6L564.7 512.1L569.7 511.8L574.7 510.7L579.7 509.7L584.7 509.4L589.7 508.3L594.7 506.1L599.7 504.9L604.7 505L609.6 504.1L614.6 502.8L619.6 502.1L624.6 503.9L629.6 502.3L634.6 501.5L639.6 500.8L644.6 499.6L649.6 499.7L654.6 499.3L659.6 498.5L664.6 496.5L669.6 497.2L674.6 497.2L679.6 496.4L684.6 493.9L689.6 494.1L694.6 493.2L699.5 493.2L704.5 492.8L709.5 492.2L714.5 493L719.5 492.7L724.5 493.1L729.5 491.6L734.5 491.1L739.5 491.8" fill="none" stroke="#fc8009" stroke-width="0.8" stroke-opacity="0.75"/>
<path d="M115.2 150.9h0M120.2 150.6h0M125.2 148.2h0M130.2 145.5h0M135.2 148h0M140.2 150.5h0M145.2 152.6h0M150.2 154.6h0M155.2 156h0M160.1 153.3h0M165.1 150.8h0M170.1 151.8h0M175.1 153.4h0M180.1 155.4h0M185.1 156.5h0M190.1 156.1h0M195.1 157.6h0M200.1 158.3h0M205.1 158.8h0M210.1 159.2h0M215.1 158.7h0M220.1 156.7h0M225.1 156.6h0M230.1 154.1h0M235.1 154.4h0M240.1 154h0M245.1 154.5h0M250 156.4h0M255 155.2h0M260 156.6h0M265 157.2h0M270 158.4h0M275 159.5h0M280 161.9h0M285 164.3h0M290 167.1h0M295 170.1h0M300 170.5h0M305 173.3h0M310 174.4h0M315 174.9h0M320 176.9h0M325 180h0M330 182.8h0M335 184.1h0M339.9 187.9h0M344.9 191.8h0M349.9 196.3h0M354.9 199.6h0M359.9 204.7h0M364.9 209.2h0M369.9 214.3h0M374.9 220.6h0M379.9 226.7h0M384.9 234.2h0M389.9 242.3h0M394.9 250h0M399.9 259.5h0M404.9 269.4h0M409.9 278.8h0M414.9 288.6h0M419.9 297.5h0M424.9 310.3h0M429.8 327.9h0M434.8 343.5h0M439.8 357.7h0M444.8 372.1h0M449.8 385h0M454.8 409.2h0M459.8 419.2h0M464.8 428.3h0M469.8 443.3h0M474.8 458.9h0M479.8 469.6h0M484.8 481.3h0M489.8 491.4h0M494.8 498.2h0M499.8 503.5h0M504.8 508.5h0M509.8 511.1h0M514.8 511.1h0M519.7 511.5h0M524.7 513.2h0M529.7 515.5h0M534.7 514.3h0M539.7 513.9h0M544.7 513.3h0M549.7 514.3h0M554.7 512.9h0M559.7 512.6h0M564.7 512.1h0M569.7 511.8h0M574.7 510.7h0M579.7 509.7h0M584.7 509.4h0M589.7 508.3h0M594.7 506.1h0M599.7 504.9h0M604.7 505h0M609.6 504.1h0M614.6 502.8h0M619.6 502.1h0M624.6 503.9h0M629.6 502.3h0M634.6 501.5h0M639.6 500.8h0M644.6 499.6h0M649.6 499.7h0M654.6 499.3h0M659.6 498.5h0M664.6 496.5h0M669.6 497.2h0M674.6 497.2h0M679.6 496.4h0M684.6 493.9h0M689.6 494.1h0M694.6 493.2h0M699.5 493.2h0M704.5 492.8h0M709.5 492.2h0M714.5 493h0M719.5 492.7h0M724.5 493.1h0M729.5 491.6h0M734.5 491.1h0M739.5 491.8h0" fill="none" stroke="#fc8009" stroke-width="5.5" stroke-linecap="round"/>
<path d="M115.2 131.8L120.2 132.4L125.2 131.3L130.2 130.4L135.2 131.1L140.2 132.2L145.2 132.4L150.2 131.8L155.2 132.1L160.1 134.7L165.1 134.9L170.1 137.2L175.1 138.7L180.1 139.5L185.1 140.1L190.1 139.6L195.1 139.8L200.1 141.2L205.1 142L210.1 143L215.1 143.6L220.1 145.1L225.1 147.3L230.1 149.4L235.1 150.7L240.1 152L245.1 153.2L250 154.1L255 155.4L260 155.9L265 157.3L270 157.6L275 156.9L280 156.8L285 157.7L290 158.2L295 159.7L300 161.7L305 164.3L310 166.8L315 169.6L320 171.5L325 174.4L330 177.5L335 180L339.9 185.3L344.9 188.8L349.9 192.9L354.9 197.3L359.9 201.8L364.9 207.3L369.9 213L374.9 218.4L379.9 223.6L384.9 231.2L389.9 239.1L394.9 246.1L399.9 255.5L404.9 264.3L409.9 273.7L414.9 282.9L419.9 293.2L424.9 306.6L429.8 325.9L434.8 340.3L439.8 354.5L444.8 369.5L449.8 382.8L454.8 409.5L459.8 419.7L464.8 429.3L469.8 443.1L474.8 458.9L479.8 470.1L484.8 481.7L489.8 489.4L494.8 496.4L499.8 501.6L504.8 505.4L509.8 506.9L514.8 508.6L519.7 510.4L524.7 511.1L529.7 512.2L534.7 512.5L539.7 513.3L544.7 513.7L549.7 513.2L554.7 513L559.7 511.6L564.7 510.2L569.7 510.8L574.7 509.1L579.7 508.4L584.7 507.7L589.7 506.8L594.7 505.9L599.7 505.4L604.7 504.7L609.6 503.2L614.6 502.4L619.6 502.5L624.6 502.1L629.6 500.9L634.6 500.3L639.6 499.1L644.6 498L649.6 497.7L654.6 498.6L659.6 497.5L664.6 495.8L669.6 496L674.6 495.7L679.6 496.3L684.6 496.9L689.6 496.1L694.6 495.7L699.5 494.7L704.5 495.3L709.5 494.3L714.5 494L719.5 495.2L724.5 493.8L729.5 493.4L734.5 493L739.5 492.9" fill="none" stroke="#fc8009" stroke-width="0.8" stroke-opacity="0.75"/>
<path d="M115.2 131.8h0M120.2 132.4h0M125.2 131.3h0M130.2 130.4h0M135.2 131.1h0M140.2 132.2h0M145.2 132.4h0M150.2 131.8h0M155.2 132.1h0M160.1 134.7h0M165.1 134.9h0M170.1 137.2h0M175.1 138.7h0M180.1 139.5h0M185.1 140.1h0M190.1 139.6h0M195.1 139.8h0M200.1 141.2h0M205.1 142h0M210.1 143h0M215.1 143.6h0M220.1 145.1h0M225.1 147.3h0M230.1 149.4h0M235.1 150.7h0M240.1 152h0M245.1 153.2h0M250 154.1h0M255 155.4h0M260 155.9h0M265 157.3h0M270 157.6h0M275 156.9h0M280 156.8h0M285 157.7h0M290 158.2h0M295 159.7h0M300 161.7h0M305 164.3h0M310 166.8h0M315 169.6h0M320 171.5h0M325 174.4h0M330 177.5h0M335 180h0M339.9 185.3h0M344.9 188.8h0M349.9 192.9h0M354.9 197.3h0M359.9 201.8h0M364.9 207.3h0M369.9 213h0M374.9 218.4h0M379.9 223.6h0M384.9 231.2h0M389.9 239.1h0M394.9 246.1h0M399.9 255.5h0M404.9 264.3h0M409.9 273.7h0M414.9 282.9h0M419.9 293.2h0M424.9 306.6h0M429.8 325.9h0M434.8 340.3h0M439.8 354.5h0M444.8 369.5h0M449.8 382.8h0M454.8 409.5h0M459.8 419.7h0M464.8 429.3h0M469.8 443.1h0M474.8 458.9h0M479.8 470.1h0M484.8 481.7h0M489.8 489.4h0M494.8 496.4h0M499.8 501.6h0M504.8 505.4h0M509.8 506.9h0M514.8 508.6h0M519.7 510.4h0M524.7 511.1h0M529.7 512.2h0M534.7 512.5h0M539.7 513.3h0M544.7 513.7h0M549.7 513.2h0M554.7 513h0M559.7 511.6h0M564.7 510.2h0M569.7 510.8h0M574.7 509.1h0M579.7 508.4h0M584.7 507.7h0M589.7 506.8h0M594.7 505.9h0M599.7 505.4h0M604.7 504.7h0M609.6 503.2h0M614.6 502.4h0M619.6 502.5h0M624.6 502.1h0M629.6 500.9h0M634.6 500.3h0M639.6 499.1h0M644.6 498h0M649.6 497.7h0M654.6 498.6h0M659.6 497.5h0M664.6 495.8h0M669.6 496h0M674.6 495.7h0M679.6 496.3h0M684.6 496.9h0M689.6 496.1h0M694.6 495.7h0M699.5 494.7h0M704.5 495.3h0M709.5 494.3h0M714.5 494h0M719.5 495.2h0M724.5 493.8h0M729.5 493.4h0M734.5 493h0M739.5 492.9h0" fill="none" stroke="#fc8009" stroke-width="5.5" stroke-linecap="round"/>
<path d="M115.2 123.8L120.2 123.8L125.2 123.8L130.2 123.5L135.2 123.8L140.2 123.9L145.2 124.7L150.2 123.9L155.2 125.7L160.1 123.8L165.1 125.1L170.1 126.7L175.1 127.2L180.1 127.6L185.1 128.7L190.1 130.3L195.1 132L200.1 131.6L205.1 132L210.1 131.7L215.1 132.7L220.1 132.4L225.1 133.8L230.1 135.9L235.1 136.8L240.1 138.2L245.1 138.9L250 140.2L255 140.5L260 141.9L265 143.5L270 145.1L275 148.8L280 148.7L285 149.4L290 152.2L295 155.3L300 157.7L305 160.8L310 164.1L315 165.5L320 167.1L325 169.9L330 173.6L335 176.5L339.9 180.8L344.9 185.6L349.9 190.3L354.9 193.7L359.9 199.5L364.9 204.5L369.9 210.1L374.9 215.5L379.9 221.4L384.9 229.9L389.9 237.4L394.9 245.3L399.9 254.7L404.9 263.9L409.9 272.3L414.9 282.4L419.9 291.7L424.9 304.6L429.8 323.5L434.8 339.3L439.8 352.6L444.8 366.1L449.8 380.9L454.8 406.4L459.8 416.7L464.8 427.6L469.8 440.6L474.8 455.4L479.8 466.3L484.8 479.1L489.8 487.4L494.8 495L499.8 498.9L504.8 501.6L509.8 503.8L514.8 506L519.7 507.4L524.7 510L529.7 511.5L534.7 510.4L539.7 510.1L544.7 510.4L549.7 509.3L554.7 508.6L559.7 507.6L564.7 507.2L569.7 506.6L574.7 505.4L579.7 505.6L584.7 504.3L589.7 504L594.7 502.4L599.7 501.2L604.7 500.3L609.6 499.7L614.6 499.8L619.6 498L624.6 499L629.6 497.5L634.6 498.2L639.6 497.5L644.6 496.5L649.6 496.6L654.6 495.5L659.6 495L664.6 494.6L669.6 496.2L674.6 494.6L679.6 495.4L684.6 494.3L689.6 493.3L694.6 492.6L699.5 493.2L704.5 492.4L709.5 491.5L714.5 491.7L719.5 491.5L724.5 491.7L729.5 490.3L734.5 491.1L739.5 491.2" fill="none" stroke="#fc8009" stroke-width="0.8" stroke-opacity="0.75"/>
<path d="M115.2 123.8h0M120.2 123.8h0M125.2 123.8h0M130.2 123.5h0M135.2 123.8h0M140.2 123.9h0M145.2 124.7h0M150.2 123.9h0M155.2 125.7h0M160.1 123.8h0M165.1 125.1h0M170.1 126.7h0M175.1 127.2h0M180.1 127.6h0M185.1 128.7h0M190.1 130.3h0M195.1 132h0M200.1 131.6h0M205.1 132h0M210.1 131.7h0M215.1 132.7h0M220.1 132.4h0M225.1 133.8h0M230.1 135.9h0M235.1 136.8h0M240.1 138.2h0M245.1 138.9h0M250 140.2h0M255 140.5h0M260 141.9h0M265 143.5h0M270 145.1h0M275 148.8h0M280 148.7h0M285 149.4h0M290 152.2h0M295 155.3h0M300 157.7h0M305 160.8h0M310 164.1h0M315 165.5h0M320 167.1h0M325 169.9h0M330 173.6h0M335 176.5h0M339.9 180.8h0M344.9 185.6h0M349.9 190.3h0M354.9 193.7h0M359.9 199.5h0M364.9 204.5h0M369.9 210.1h0M374.9 215.5h0M379.9 221.4h0M384.9 229.9h0M389.9 237.4h0M394.9 245.3h0M399.9 254.7h0M404.9 263.9h0M409.9 272.3h0M414.9 282.4h0M419.9 291.7h0M424.9 304.6h0M429.8 323.5h0M434.8 339.3h0M439.8 352.6h0M444.8 366.1h0M449.8 380.9h0M454.8 406.4h0M459.8 416.7h0M464.8 427.6h0M469.8 440.6h0M474.8 455.4h0M479.8 466.3h0M484.8 479.1h0M489.8 487.4h0M494.8 495h0M499.8 498.9h0M504.8 501.6h0M509.8 503.8h0M514.8 506h0M519.7 507.4h0M524.7 510h0M529.7 511.5h0M534.7 510.4h0M539.7 510.1h0M544.7 510.4h0M549.7 509.3h0M554.7 508.6h0M559.7 507.6h0M564.7 507.2h0M569.7 506.6h0M574.7 505.4h0M579.7 505.6h0M584.7 504.3h0M589.7 504h0M594.7 502.4h0M599.7 501.2h0M604.7 500.3h0M609.6 499.7h0M614.6 499.8h0M619.6 498h0M624.6 499h0M629.6 497.5h0M634.6 498.2h0M639.6 497.5h0M644.6 496.5h0M649.6 496.6h0M654.6 495.5h0M659.6 495h0M664.6 494.6h0M669.6 496.2h0M674.6 494.6h0M679.6 495.4h0M684.6 494.3h0M689.6 493.3h0M694.6 492.6h0M699.5 493.2h0M704.5 492.4h0M709.5 491.5h0M714.5 491.7h0M719.5 491.5h0M724.5 491.7h0M729.5 490.3h0M734.5 491.1h0M739.5 491.2h0" fill="none" stroke="#fc8009" stroke-width="5.5" stroke-linecap="round"/>
<rect x="115.2" y="66.7" width="624.3" height="502.9" fill="none" stroke="#222" stroke-width="1.3"/>
<text transform="translate(95.8,76.4) scale(0.93,1)" text-anchor="end" font-size="24.8">10<tspan font-size="15.6" dy="-11.4">-6</tspan></text>
<text transform="translate(95.8,139.3) scale(0.93,1)" text-anchor="end" font-size="24.8">10<tspan font-size="15.6" dy="-11.4">-7</tspan></text>
<text transform="translate(95.8,202.1) scale(0.93,1)" text-anchor="end" font-size="24.8">10<tspan font-size="15.6" dy="-11.4">-8</tspan></text>
<text transform="translate(95.8,265) scale(0.93,1)" text-anchor="end" font-size="24.8">10<tspan font-size="15.6" dy="-11.4">-9</tspan></text>
<text transform="translate(95.8,327.9) scale(0.93,1)" text-anchor="end" font-size="24.8">10<tspan font-size="15.6" dy="-11.4">-10</tspan></text>
<text transform="translate(95.8,390.7) scale(0.93,1)" text-anchor="end" font-size="24.8">10<tspan font-size="15.6" dy="-11.4">-11</tspan></text>
<text transform="translate(95.8,453.6) scale(0.93,1)" text-anchor="end" font-size="24.8">10<tspan font-size="15.6" dy="-11.4">-12</tspan></text>
<text transform="translate(95.8,516.4) scale(0.93,1)" text-anchor="end" font-size="24.8">10<tspan font-size="15.6" dy="-11.4">-13</tspan></text>
<text transform="translate(95.8,579.3) scale(0.93,1)" text-anchor="end" font-size="24.8">10<tspan font-size="15.6" dy="-11.4">-14</tspan></text>
<text transform="translate(115.2,609) scale(0.95,1)" text-anchor="middle" font-size="24.8">-15</text>
<text transform="translate(240.1,609) scale(0.95,1)" text-anchor="middle" font-size="24.8">-10</text>
<text transform="translate(364.9,609) scale(0.95,1)" text-anchor="middle" font-size="24.8">-5</text>
<text transform="translate(489.8,609) scale(0.95,1)" text-anchor="middle" font-size="24.8">0</text>
<text transform="translate(614.6,609) scale(0.95,1)" text-anchor="middle" font-size="24.8">5</text>
<text transform="translate(739.5,609) scale(0.95,1)" text-anchor="middle" font-size="24.8">10</text>
<path d="M102.7 66.7H115.2M102.7 129.6H115.2M102.7 192.4H115.2M102.7 255.3H115.2M102.7 318.2H115.2M102.7 381H115.2M102.7 443.9H115.2M102.7 506.7H115.2M102.7 569.6H115.2M108.7 110.6H115.2M108.7 99.6H115.2M108.7 91.7H115.2M108.7 85.6H115.2M108.7 80.6H115.2M108.7 76.4H115.2M108.7 72.8H115.2M108.7 69.6H115.2M108.7 173.5H115.2M108.7 162.4H115.2M108.7 154.6H115.2M108.7 148.5H115.2M108.7 143.5H115.2M108.7 139.3H115.2M108.7 135.7H115.2M108.7 132.4H115.2M108.7 236.4H115.2M108.7 225.3H115.2M108.7 217.4H115.2M108.7 211.3H115.2M108.7 206.4H115.2M108.7 202.2H115.2M108.7 198.5H115.2M108.7 195.3H115.2M108.7 299.2H115.2M108.7 288.2H115.2M108.7 280.3H115.2M108.7 274.2H115.2M108.7 269.2H115.2M108.7 265H115.2M108.7 261.4H115.2M108.7 258.2H115.2M108.7 362.1H115.2M108.7 351H115.2M108.7 343.2H115.2M108.7 337.1H115.2M108.7 332.1H115.2M108.7 327.9H115.2M108.7 324.2H115.2M108.7 321H115.2M108.7 425H115.2M108.7 413.9H115.2M108.7 406H115.2M108.7 399.9H115.2M108.7 395H115.2M108.7 390.8H115.2M108.7 387.1H115.2M108.7 383.9H115.2M108.7 487.8H115.2M108.7 476.7H115.2M108.7 468.9H115.2M108.7 462.8H115.2M108.7 457.8H115.2M108.7 453.6H115.2M108.7 450H115.2M108.7 446.8H115.2M108.7 550.7H115.2M108.7 539.6H115.2M108.7 531.8H115.2M108.7 525.7H115.2M108.7 520.7H115.2M108.7 516.5H115.2M108.7 512.8H115.2M108.7 509.6H115.2M115.2 569.6V581.6M140.2 569.6V575.6M165.1 569.6V575.6M190.1 569.6V575.6M215.1 569.6V575.6M240.1 569.6V581.6M265 569.6V575.6M290 569.6V575.6M315 569.6V575.6M339.9 569.6V575.6M364.9 569.6V581.6M389.9 569.6V575.6M414.9 569.6V575.6M439.8 569.6V575.6M464.8 569.6V575.6M489.8 569.6V581.6M514.8 569.6V575.6M539.7 569.6V575.6M564.7 569.6V575.6M589.7 569.6V575.6M614.6 569.6V581.6M639.6 569.6V575.6M664.6 569.6V575.6M689.6 569.6V575.6M714.5 569.6V575.6M739.5 569.6V581.6" stroke="#222" stroke-width="1.3" fill="none"/>
<text x="148.3" y="97.2" font-size="24.5" font-weight="bold" font-style="italic" style="fill:#ee6e1c">V<tspan font-size="17" dy="6.5" dx="-1.5">PG</tspan><tspan dy="-6.5" dx="-3.1" font-style="normal"> =</tspan><tspan dx="-0.6" font-style="normal"> -12V</tspan></text>
<text x="153" y="418.5" font-size="24.5" font-weight="bold" font-style="italic" style="fill:#ee6e1c">V<tspan font-size="17" dy="6.5" dx="-1.5">PG</tspan><tspan dy="-6.5" dx="-3.1" font-style="normal"> =</tspan><tspan dx="-0.6" font-style="normal"> -4V</tspan></text>
<path d="M186 115.5L196.5 129.5" stroke="#fc8009" stroke-width="1.6" fill="none"/>
<path d="M300.7 102.5H358.5" stroke="#fc8009" stroke-width="1.2" stroke-opacity="0.8" fill="none"/><circle cx="329.4" cy="102.5" r="2.9" fill="#fc8009"/>
<text x="363.5" y="104.5" font-size="24.6"><tspan font-style="italic">I<tspan font-size="17" dy="6.5">ds</tspan></tspan><tspan dy="-6.5" dx="-3.5"> , with </tspan><tspan font-style="italic" dx="1.5">V<tspan font-size="17" dy="6.5">PG</tspan></tspan><tspan dy="-6.5" dx="1.5"> from -4 to -12V</tspan></text>
<text x="407.3" y="133.5" font-size="24.6">in -2V steps</text>
<text x="147" y="529" font-size="24.8">Leakage currents, |<tspan font-style="italic">I<tspan font-size="17" dy="6.5">cg</tspan></tspan><tspan dy="-6.5">|, |</tspan><tspan font-style="italic">I<tspan font-size="17" dy="6.5">pg</tspan></tspan><tspan dy="-6.5">|</tspan></text>
<text x="428.4" y="653.8" text-anchor="middle" font-size="28.3"><tspan font-style="italic">V<tspan font-size="18.5" dy="9.5" dx="-1">CG</tspan></tspan><tspan dy="-9.5"> (V)</tspan></text>
<text transform="translate(22.8,318) rotate(-90)" text-anchor="middle" font-size="29.5"><tspan font-style="italic">I<tspan font-size="19.5" dy="9.6">ds</tspan></tspan><tspan dy="-9.6"> , |</tspan><tspan font-style="italic">I<tspan font-size="19.5" dy="9.6">pg</tspan></tspan><tspan dy="-9.6">|, |</tspan><tspan font-style="italic">I<tspan font-size="19.5" dy="9.6">cg</tspan></tspan><tspan dy="-9.6">| (A)</tspan></text>
<text x="80" y="25.4" font-size="38" font-weight="bold">a</text>
<circle cx="134.3" cy="117.5" r="14" fill="#2e8b2e" fill-opacity="0.85"/>
<rect x="124.5" y="116" width="52.5" height="50.5" fill="none" stroke="#0a7a0a" stroke-width="3" stroke-dasharray="9 4.5"/>
<path d="M143.4 170.1V668" stroke="#0a7a0a" stroke-width="4.9" stroke-dasharray="18.8 15 4.5 15" fill="none"/>
<path d="M143.4 681.5L131.4 658.3L143.4 665.8L155.4 658.3Z" fill="#0a7a0a"/>
<circle cx="714.3" cy="498" r="14" fill="#8c1111" fill-opacity="0.66"/>
<rect x="674" y="469" width="57" height="52" fill="none" stroke="#f20a0a" stroke-width="3" stroke-dasharray="9 4.5"/>
<path d="M695.3 521.6V666.2" stroke="#f20a0a" stroke-width="5" stroke-dasharray="18 15.9 4.5 14.6" fill="none"/>
<path d="M695.3 684.6L683.2 661.8L695.3 671.2L707.4 661.8Z" fill="#f20a0a"/>
</g>
<g id="plotB">
<path d="M899.6 547.1h3.3v3.3h-3.3zM899.6 550.6h3.3v3.3h-3.3zM904.3 549.1h3.3v3.3h-3.3zM904.3 552.6h3.3v3.3h-3.3zM904.3 556.1h3.3v3.3h-3.3zM904.3 559.6h3.3v3.3h-3.3zM904.3 551.4h3.3v3.3h-3.3zM908.9 543.3h3.3v3.3h-3.3zM908.9 546.8h3.3v3.3h-3.3zM908.9 550.3h3.3v3.3h-3.3zM908.9 553.8h3.3v3.3h-3.3zM908.9 557.3h3.3v3.3h-3.3zM908.9 546h3.3v3.3h-3.3zM908.9 551.6h3.3v3.3h-3.3zM913.5 542.9h3.3v3.3h-3.3zM913.5 546.4h3.3v3.3h-3.3zM913.5 549.9h3.3v3.3h-3.3zM913.5 553.4h3.3v3.3h-3.3zM913.5 549.3h3.3v3.3h-3.3zM918.2 530.6h3.3v3.3h-3.3zM918.2 534.1h3.3v3.3h-3.3zM918.2 537.6h3.3v3.3h-3.3zM918.2 541.1h3.3v3.3h-3.3zM918.2 540.4h3.3v3.3h-3.3zM918.2 546.2h3.3v3.3h-3.3zM922.8 542.6h3.3v3.3h-3.3zM922.8 546.1h3.3v3.3h-3.3zM922.8 549.6h3.3v3.3h-3.3zM922.8 553.1h3.3v3.3h-3.3zM922.8 532.5h3.3v3.3h-3.3zM922.8 552h3.3v3.3h-3.3zM927.4 541.6h3.3v3.3h-3.3zM927.4 545.1h3.3v3.3h-3.3zM927.4 548.6h3.3v3.3h-3.3zM927.4 536.9h3.3v3.3h-3.3zM927.4 543.2h3.3v3.3h-3.3zM927.4 557.6h3.3v3.3h-3.3zM932.1 548.7h3.3v3.3h-3.3zM932.1 552.2h3.3v3.3h-3.3zM932.1 553.3h3.3v3.3h-3.3zM936.7 547.9h3.3v3.3h-3.3zM936.7 551.4h3.3v3.3h-3.3zM936.7 554.9h3.3v3.3h-3.3zM936.7 558.4h3.3v3.3h-3.3zM936.7 561.9h3.3v3.3h-3.3zM936.7 529.6h3.3v3.3h-3.3zM936.7 535h3.3v3.3h-3.3zM936.7 539.6h3.3v3.3h-3.3zM941.3 536.7h3.3v3.3h-3.3zM941.3 540.2h3.3v3.3h-3.3zM941.3 526.9h3.3v3.3h-3.3zM941.3 553.1h3.3v3.3h-3.3zM946 526.8h3.3v3.3h-3.3zM946 530.3h3.3v3.3h-3.3zM946 555.5h3.3v3.3h-3.3zM950.6 527.7h3.3v3.3h-3.3zM950.6 531.2h3.3v3.3h-3.3zM950.6 534.7h3.3v3.3h-3.3zM950.6 541.1h3.3v3.3h-3.3zM955.2 526.4h3.3v3.3h-3.3zM955.2 529.9h3.3v3.3h-3.3zM955.2 540h3.3v3.3h-3.3zM955.2 557.5h3.3v3.3h-3.3zM959.9 525.5h3.3v3.3h-3.3zM959.9 529h3.3v3.3h-3.3zM959.9 532.5h3.3v3.3h-3.3zM959.9 536h3.3v3.3h-3.3zM959.9 546.9h3.3v3.3h-3.3zM964.5 517.9h3.3v3.3h-3.3zM964.5 521.4h3.3v3.3h-3.3zM964.5 540.2h3.3v3.3h-3.3zM964.5 539.4h3.3v3.3h-3.3zM969.1 535.1h3.3v3.3h-3.3zM969.1 538.6h3.3v3.3h-3.3zM969.1 542.1h3.3v3.3h-3.3zM969.1 545.6h3.3v3.3h-3.3zM969.1 549.1h3.3v3.3h-3.3zM969.1 546.6h3.3v3.3h-3.3zM973.8 534.1h3.3v3.3h-3.3zM973.8 537.6h3.3v3.3h-3.3zM973.8 541.1h3.3v3.3h-3.3zM973.8 537.9h3.3v3.3h-3.3zM978.4 524.4h3.3v3.3h-3.3zM978.4 527.9h3.3v3.3h-3.3zM978.4 514.2h3.3v3.3h-3.3zM978.4 504.1h3.3v3.3h-3.3zM983 524.6h3.3v3.3h-3.3zM983 528.1h3.3v3.3h-3.3zM983 546.2h3.3v3.3h-3.3zM987.7 521.1h3.3v3.3h-3.3zM987.7 524.6h3.3v3.3h-3.3zM992.3 520.3h3.3v3.3h-3.3zM992.3 523.8h3.3v3.3h-3.3zM992.3 527.3h3.3v3.3h-3.3zM992.3 530.8h3.3v3.3h-3.3zM992.3 534.3h3.3v3.3h-3.3zM996.9 521.8h3.3v3.3h-3.3zM996.9 525.3h3.3v3.3h-3.3zM996.9 528.8h3.3v3.3h-3.3zM996.9 532.3h3.3v3.3h-3.3zM996.9 512.4h3.3v3.3h-3.3zM996.9 518.8h3.3v3.3h-3.3zM1001.6 516.5h3.3v3.3h-3.3zM1001.6 520h3.3v3.3h-3.3zM1001.6 523.5h3.3v3.3h-3.3zM1001.6 527h3.3v3.3h-3.3zM1001.6 495.9h3.3v3.3h-3.3zM1001.6 517.7h3.3v3.3h-3.3zM1006.2 502.4h3.3v3.3h-3.3zM1006.2 505.9h3.3v3.3h-3.3zM1006.2 508.8h3.3v3.3h-3.3zM1010.8 506.6h3.3v3.3h-3.3zM1010.8 510.1h3.3v3.3h-3.3zM1010.8 513.6h3.3v3.3h-3.3zM1010.8 517.1h3.3v3.3h-3.3zM1010.8 520.6h3.3v3.3h-3.3zM1010.8 529h3.3v3.3h-3.3zM1010.8 516.8h3.3v3.3h-3.3zM1015.4 524.2h3.3v3.3h-3.3zM1015.4 527.7h3.3v3.3h-3.3zM1020.1 509.6h3.3v3.3h-3.3zM1020.1 513.1h3.3v3.3h-3.3zM1020.1 511.7h3.3v3.3h-3.3zM1020.1 502.8h3.3v3.3h-3.3zM1024.7 506.2h3.3v3.3h-3.3zM1024.7 509.7h3.3v3.3h-3.3zM1024.7 513.2h3.3v3.3h-3.3zM1024.7 523.5h3.3v3.3h-3.3zM1029.3 504.9h3.3v3.3h-3.3zM1029.3 508.4h3.3v3.3h-3.3zM1029.3 511.9h3.3v3.3h-3.3zM1029.3 515.4h3.3v3.3h-3.3zM1029.3 518.9h3.3v3.3h-3.3zM1029.3 509h3.3v3.3h-3.3zM1034 506.7h3.3v3.3h-3.3zM1034 510.2h3.3v3.3h-3.3zM1034 508.4h3.3v3.3h-3.3zM1038.6 511.2h3.3v3.3h-3.3zM1038.6 514.7h3.3v3.3h-3.3zM1038.6 518.2h3.3v3.3h-3.3zM1038.6 521.7h3.3v3.3h-3.3zM1038.6 525.2h3.3v3.3h-3.3zM1038.6 511.1h3.3v3.3h-3.3zM1043.2 496.6h3.3v3.3h-3.3zM1043.2 500.1h3.3v3.3h-3.3zM1043.2 503.6h3.3v3.3h-3.3zM1043.2 507.1h3.3v3.3h-3.3zM1043.2 525.8h3.3v3.3h-3.3zM1043.2 507h3.3v3.3h-3.3zM1047.9 509.6h3.3v3.3h-3.3zM1047.9 513.1h3.3v3.3h-3.3zM1047.9 516.6h3.3v3.3h-3.3zM1047.9 520.1h3.3v3.3h-3.3zM1047.9 510.3h3.3v3.3h-3.3zM1047.9 508.6h3.3v3.3h-3.3zM1052.5 511.1h3.3v3.3h-3.3zM1052.5 514.6h3.3v3.3h-3.3zM1052.5 518.1h3.3v3.3h-3.3zM1052.5 521.6h3.3v3.3h-3.3zM1052.5 525.1h3.3v3.3h-3.3zM1057.1 513h3.3v3.3h-3.3zM1057.1 516.5h3.3v3.3h-3.3zM1057.1 520h3.3v3.3h-3.3zM1057.1 523.5h3.3v3.3h-3.3zM1057.1 527h3.3v3.3h-3.3zM1057.1 501.7h3.3v3.3h-3.3zM1061.8 492.4h3.3v3.3h-3.3zM1061.8 495.7h3.3v3.3h-3.3zM1061.8 499.2h3.3v3.3h-3.3zM1061.8 506.8h3.3v3.3h-3.3zM1066.4 500.1h3.3v3.3h-3.3zM1066.4 503.6h3.3v3.3h-3.3zM1066.4 507.1h3.3v3.3h-3.3zM1066.4 510.6h3.3v3.3h-3.3zM1066.4 494.4h3.3v3.3h-3.3zM1071 502.8h3.3v3.3h-3.3zM1071 506.3h3.3v3.3h-3.3zM1071 515.4h3.3v3.3h-3.3zM1075.7 492.6h3.3v3.3h-3.3zM1075.7 495.8h3.3v3.3h-3.3zM1075.7 505.4h3.3v3.3h-3.3zM1075.7 520.8h3.3v3.3h-3.3zM1080.3 489.4h3.3v3.3h-3.3zM1080.3 492.6h3.3v3.3h-3.3zM1080.3 495.8h3.3v3.3h-3.3zM1080.3 502.2h3.3v3.3h-3.3zM1080.3 505.4h3.3v3.3h-3.3zM1080.3 508.6h3.3v3.3h-3.3zM1080.3 515.7h3.3v3.3h-3.3zM1084.9 489.4h3.3v3.3h-3.3zM1084.9 492.6h3.3v3.3h-3.3zM1084.9 495.8h3.3v3.3h-3.3zM1084.9 499h3.3v3.3h-3.3zM1084.9 505.4h3.3v3.3h-3.3zM1084.9 508.6h3.3v3.3h-3.3zM1089.6 492.6h3.3v3.3h-3.3zM1089.6 495.8h3.3v3.3h-3.3zM1089.6 499h3.3v3.3h-3.3zM1089.6 502.2h3.3v3.3h-3.3zM1089.6 505.4h3.3v3.3h-3.3zM1089.6 508.6h3.3v3.3h-3.3zM1089.6 520.9h3.3v3.3h-3.3zM1094.2 489.4h3.3v3.3h-3.3zM1094.2 492.6h3.3v3.3h-3.3zM1094.2 495.8h3.3v3.3h-3.3zM1094.2 499h3.3v3.3h-3.3zM1094.2 505.4h3.3v3.3h-3.3zM1094.2 508.6h3.3v3.3h-3.3zM1098.8 489.4h3.3v3.3h-3.3zM1098.8 492.6h3.3v3.3h-3.3zM1098.8 495.8h3.3v3.3h-3.3zM1098.8 499h3.3v3.3h-3.3zM1098.8 502.2h3.3v3.3h-3.3zM1098.8 505.4h3.3v3.3h-3.3zM1098.8 521h3.3v3.3h-3.3zM1103.5 489.4h3.3v3.3h-3.3zM1103.5 492.6h3.3v3.3h-3.3zM1103.5 495.8h3.3v3.3h-3.3zM1103.5 502.2h3.3v3.3h-3.3zM1103.5 514.8h3.3v3.3h-3.3zM1108.1 489.4h3.3v3.3h-3.3zM1108.1 492.6h3.3v3.3h-3.3zM1108.1 495.8h3.3v3.3h-3.3zM1108.1 499h3.3v3.3h-3.3zM1108.1 505.4h3.3v3.3h-3.3zM1108.1 521.5h3.3v3.3h-3.3zM1112.7 489.4h3.3v3.3h-3.3zM1112.7 492.6h3.3v3.3h-3.3zM1112.7 499h3.3v3.3h-3.3zM1112.7 502.2h3.3v3.3h-3.3zM1112.7 505.4h3.3v3.3h-3.3zM1112.7 519h3.3v3.3h-3.3zM1117.3 489.4h3.3v3.3h-3.3zM1117.3 499h3.3v3.3h-3.3zM1117.3 502.2h3.3v3.3h-3.3zM1117.3 505.4h3.3v3.3h-3.3zM1117.3 508.6h3.3v3.3h-3.3zM1122 492.6h3.3v3.3h-3.3zM1122 495.8h3.3v3.3h-3.3zM1122 499h3.3v3.3h-3.3zM1122 502.2h3.3v3.3h-3.3zM1122 508.6h3.3v3.3h-3.3zM1126.6 492.6h3.3v3.3h-3.3zM1126.6 495.8h3.3v3.3h-3.3zM1126.6 499h3.3v3.3h-3.3zM1126.6 502.2h3.3v3.3h-3.3zM1126.6 505.4h3.3v3.3h-3.3zM1126.6 508.6h3.3v3.3h-3.3zM1126.6 519.5h3.3v3.3h-3.3zM1131.2 489.4h3.3v3.3h-3.3zM1131.2 492.6h3.3v3.3h-3.3zM1131.2 495.8h3.3v3.3h-3.3zM1131.2 499h3.3v3.3h-3.3zM1131.2 502.2h3.3v3.3h-3.3zM1131.2 505.4h3.3v3.3h-3.3zM1131.2 508.6h3.3v3.3h-3.3zM1131.2 486.6h3.3v3.3h-3.3zM1135.9 489.4h3.3v3.3h-3.3zM1135.9 502.2h3.3v3.3h-3.3zM1135.9 505.4h3.3v3.3h-3.3zM1135.9 508.6h3.3v3.3h-3.3zM1140.5 492.6h3.3v3.3h-3.3zM1140.5 495.8h3.3v3.3h-3.3zM1140.5 499h3.3v3.3h-3.3zM1140.5 505.4h3.3v3.3h-3.3zM1140.5 508.6h3.3v3.3h-3.3zM1145.1 489.4h3.3v3.3h-3.3zM1145.1 492.6h3.3v3.3h-3.3zM1145.1 495.8h3.3v3.3h-3.3zM1145.1 499h3.3v3.3h-3.3zM1145.1 502.2h3.3v3.3h-3.3zM1145.1 508.6h3.3v3.3h-3.3zM1149.8 489.4h3.3v3.3h-3.3zM1149.8 492.6h3.3v3.3h-3.3zM1149.8 499h3.3v3.3h-3.3zM1149.8 502.2h3.3v3.3h-3.3zM1149.8 505.4h3.3v3.3h-3.3zM1149.8 508.6h3.3v3.3h-3.3zM1154.4 489.4h3.3v3.3h-3.3zM1154.4 495.8h3.3v3.3h-3.3zM1154.4 502.2h3.3v3.3h-3.3zM1154.4 505.4h3.3v3.3h-3.3zM1154.4 508.6h3.3v3.3h-3.3zM1159 489.4h3.3v3.3h-3.3zM1159 492.6h3.3v3.3h-3.3zM1159 495.8h3.3v3.3h-3.3zM1159 508.6h3.3v3.3h-3.3zM1163.7 492.6h3.3v3.3h-3.3zM1163.7 495.8h3.3v3.3h-3.3zM1163.7 499h3.3v3.3h-3.3zM1163.7 505.4h3.3v3.3h-3.3zM1168.3 489.4h3.3v3.3h-3.3zM1168.3 492.6h3.3v3.3h-3.3zM1168.3 499h3.3v3.3h-3.3zM1168.3 502.2h3.3v3.3h-3.3zM1168.3 505.4h3.3v3.3h-3.3zM1172.9 489.4h3.3v3.3h-3.3zM1172.9 492.6h3.3v3.3h-3.3zM1172.9 495.8h3.3v3.3h-3.3zM1172.9 499h3.3v3.3h-3.3zM1172.9 502.2h3.3v3.3h-3.3zM1172.9 505.4h3.3v3.3h-3.3zM1172.9 508.6h3.3v3.3h-3.3zM1177.6 489.4h3.3v3.3h-3.3zM1177.6 492.6h3.3v3.3h-3.3zM1177.6 495.8h3.3v3.3h-3.3zM1177.6 499h3.3v3.3h-3.3zM1177.6 502.2h3.3v3.3h-3.3zM1177.6 505.4h3.3v3.3h-3.3zM1182.2 489.4h3.3v3.3h-3.3zM1182.2 492.6h3.3v3.3h-3.3zM1182.2 495.8h3.3v3.3h-3.3zM1182.2 499h3.3v3.3h-3.3zM1182.2 502.2h3.3v3.3h-3.3zM1182.2 505.4h3.3v3.3h-3.3zM1186.8 495.8h3.3v3.3h-3.3zM1186.8 499h3.3v3.3h-3.3zM1186.8 505.4h3.3v3.3h-3.3zM1191.5 489.4h3.3v3.3h-3.3zM1191.5 495.8h3.3v3.3h-3.3zM1191.5 499h3.3v3.3h-3.3zM1191.5 502.2h3.3v3.3h-3.3zM1191.5 505.4h3.3v3.3h-3.3zM1191.5 508.6h3.3v3.3h-3.3zM1196.1 489.4h3.3v3.3h-3.3zM1196.1 492.6h3.3v3.3h-3.3zM1196.1 495.8h3.3v3.3h-3.3zM1196.1 499h3.3v3.3h-3.3zM1196.1 508.6h3.3v3.3h-3.3zM1200.7 489.4h3.3v3.3h-3.3zM1200.7 492.6h3.3v3.3h-3.3zM1200.7 495.8h3.3v3.3h-3.3zM1200.7 505.4h3.3v3.3h-3.3zM1200.7 508.6h3.3v3.3h-3.3zM1205.4 489.4h3.3v3.3h-3.3zM1205.4 492.6h3.3v3.3h-3.3zM1205.4 499h3.3v3.3h-3.3zM1205.4 502.2h3.3v3.3h-3.3zM1205.4 505.4h3.3v3.3h-3.3zM1205.4 508.6h3.3v3.3h-3.3zM1210 489.4h3.3v3.3h-3.3zM1210 492.6h3.3v3.3h-3.3zM1210 495.8h3.3v3.3h-3.3zM1210 499h3.3v3.3h-3.3zM1210 502.2h3.3v3.3h-3.3zM1210 505.4h3.3v3.3h-3.3zM1210 508.6h3.3v3.3h-3.3zM1214.6 489.4h3.3v3.3h-3.3zM1214.6 492.6h3.3v3.3h-3.3zM1214.6 499h3.3v3.3h-3.3zM1214.6 502.2h3.3v3.3h-3.3zM1214.6 505.4h3.3v3.3h-3.3zM1214.6 508.6h3.3v3.3h-3.3zM1219.2 489.4h3.3v3.3h-3.3zM1219.2 492.6h3.3v3.3h-3.3zM1219.2 495.8h3.3v3.3h-3.3zM1219.2 499h3.3v3.3h-3.3zM1219.2 502.2h3.3v3.3h-3.3zM1219.2 508.6h3.3v3.3h-3.3zM1223.9 489.4h3.3v3.3h-3.3zM1223.9 492.6h3.3v3.3h-3.3zM1223.9 502.2h3.3v3.3h-3.3zM1223.9 505.4h3.3v3.3h-3.3zM1228.5 489.4h3.3v3.3h-3.3zM1228.5 495.8h3.3v3.3h-3.3zM1228.5 499h3.3v3.3h-3.3zM1228.5 502.2h3.3v3.3h-3.3zM1228.5 505.4h3.3v3.3h-3.3zM1228.5 508.6h3.3v3.3h-3.3zM1233.1 502.2h3.3v3.3h-3.3zM1233.1 505.4h3.3v3.3h-3.3zM1237.8 489.4h3.3v3.3h-3.3zM1237.8 492.6h3.3v3.3h-3.3zM1237.8 495.8h3.3v3.3h-3.3zM1237.8 499h3.3v3.3h-3.3zM1237.8 502.2h3.3v3.3h-3.3zM1237.8 505.4h3.3v3.3h-3.3zM1237.8 508.6h3.3v3.3h-3.3zM1242.4 489.4h3.3v3.3h-3.3zM1242.4 492.6h3.3v3.3h-3.3zM1242.4 499h3.3v3.3h-3.3zM1242.4 505.4h3.3v3.3h-3.3zM1247 492.6h3.3v3.3h-3.3zM1247 495.8h3.3v3.3h-3.3zM1247 499h3.3v3.3h-3.3zM1247 502.2h3.3v3.3h-3.3zM1247 505.4h3.3v3.3h-3.3zM1247 508.6h3.3v3.3h-3.3zM1251.7 489.4h3.3v3.3h-3.3zM1251.7 492.6h3.3v3.3h-3.3zM1251.7 495.8h3.3v3.3h-3.3zM1251.7 499h3.3v3.3h-3.3zM1251.7 505.4h3.3v3.3h-3.3zM1251.7 508.6h3.3v3.3h-3.3zM1256.3 489.4h3.3v3.3h-3.3zM1256.3 492.6h3.3v3.3h-3.3zM1256.3 499h3.3v3.3h-3.3zM1256.3 502.2h3.3v3.3h-3.3zM1256.3 505.4h3.3v3.3h-3.3zM1256.3 508.6h3.3v3.3h-3.3zM1260.9 489.4h3.3v3.3h-3.3zM1260.9 492.6h3.3v3.3h-3.3zM1260.9 495.8h3.3v3.3h-3.3zM1260.9 499h3.3v3.3h-3.3zM1260.9 502.2h3.3v3.3h-3.3zM1260.9 505.4h3.3v3.3h-3.3zM1260.9 508.6h3.3v3.3h-3.3zM1265.6 492.6h3.3v3.3h-3.3zM1265.6 495.8h3.3v3.3h-3.3zM1265.6 499h3.3v3.3h-3.3zM1265.6 502.2h3.3v3.3h-3.3zM1265.6 505.4h3.3v3.3h-3.3zM1265.6 508.6h3.3v3.3h-3.3zM1270.2 489.4h3.3v3.3h-3.3zM1270.2 492.6h3.3v3.3h-3.3zM1270.2 495.8h3.3v3.3h-3.3zM1270.2 499h3.3v3.3h-3.3zM1270.2 502.2h3.3v3.3h-3.3zM1270.2 505.4h3.3v3.3h-3.3zM1270.2 508.6h3.3v3.3h-3.3zM1274.8 489.4h3.3v3.3h-3.3zM1274.8 492.6h3.3v3.3h-3.3zM1274.8 499h3.3v3.3h-3.3zM1274.8 502.2h3.3v3.3h-3.3zM1274.8 505.4h3.3v3.3h-3.3zM1274.8 508.6h3.3v3.3h-3.3zM1279.5 489.4h3.3v3.3h-3.3zM1279.5 492.6h3.3v3.3h-3.3zM1279.5 495.8h3.3v3.3h-3.3zM1279.5 499h3.3v3.3h-3.3zM1279.5 505.4h3.3v3.3h-3.3zM1279.5 508.6h3.3v3.3h-3.3zM1284.1 489.4h3.3v3.3h-3.3zM1284.1 492.6h3.3v3.3h-3.3zM1284.1 495.8h3.3v3.3h-3.3zM1284.1 499h3.3v3.3h-3.3zM1284.1 505.4h3.3v3.3h-3.3zM1284.1 508.6h3.3v3.3h-3.3zM1288.7 489.4h3.3v3.3h-3.3zM1288.7 492.6h3.3v3.3h-3.3zM1288.7 495.8h3.3v3.3h-3.3zM1288.7 505.4h3.3v3.3h-3.3zM1288.7 508.6h3.3v3.3h-3.3zM1293.4 489.4h3.3v3.3h-3.3zM1293.4 492.6h3.3v3.3h-3.3zM1293.4 495.8h3.3v3.3h-3.3zM1293.4 499h3.3v3.3h-3.3zM1293.4 505.4h3.3v3.3h-3.3zM1293.4 484.8h3.3v3.3h-3.3zM1298 489.4h3.3v3.3h-3.3zM1298 492.6h3.3v3.3h-3.3zM1298 499h3.3v3.3h-3.3zM1298 502.2h3.3v3.3h-3.3zM1298 505.4h3.3v3.3h-3.3zM1302.6 489.4h3.3v3.3h-3.3zM1302.6 492.6h3.3v3.3h-3.3zM1302.6 495.8h3.3v3.3h-3.3zM1302.6 499h3.3v3.3h-3.3zM1302.6 502.2h3.3v3.3h-3.3zM1302.6 505.4h3.3v3.3h-3.3zM1302.6 508.6h3.3v3.3h-3.3zM1307.3 489.4h3.3v3.3h-3.3zM1307.3 492.6h3.3v3.3h-3.3zM1307.3 499h3.3v3.3h-3.3zM1307.3 502.2h3.3v3.3h-3.3zM1307.3 505.4h3.3v3.3h-3.3zM1307.3 508.6h3.3v3.3h-3.3zM1311.9 489.4h3.3v3.3h-3.3zM1311.9 492.6h3.3v3.3h-3.3zM1311.9 495.8h3.3v3.3h-3.3zM1311.9 502.2h3.3v3.3h-3.3zM1316.5 489.4h3.3v3.3h-3.3zM1316.5 492.6h3.3v3.3h-3.3zM1316.5 499h3.3v3.3h-3.3zM1316.5 502.2h3.3v3.3h-3.3zM1316.5 505.4h3.3v3.3h-3.3zM1316.5 508.6h3.3v3.3h-3.3zM1321.1 489.4h3.3v3.3h-3.3zM1321.1 492.6h3.3v3.3h-3.3zM1321.1 499h3.3v3.3h-3.3zM1321.1 502.2h3.3v3.3h-3.3zM1321.1 505.4h3.3v3.3h-3.3zM1321.1 508.6h3.3v3.3h-3.3zM1325.8 489.4h3.3v3.3h-3.3zM1325.8 492.6h3.3v3.3h-3.3zM1325.8 499h3.3v3.3h-3.3zM1325.8 502.2h3.3v3.3h-3.3zM1325.8 505.4h3.3v3.3h-3.3zM1325.8 508.6h3.3v3.3h-3.3zM1330.4 489.4h3.3v3.3h-3.3zM1330.4 492.6h3.3v3.3h-3.3zM1330.4 502.2h3.3v3.3h-3.3zM1330.4 505.4h3.3v3.3h-3.3zM1330.4 508.6h3.3v3.3h-3.3zM1335 489.4h3.3v3.3h-3.3zM1335 492.6h3.3v3.3h-3.3zM1335 499h3.3v3.3h-3.3zM1335 502.2h3.3v3.3h-3.3zM1339.7 489.4h3.3v3.3h-3.3zM1339.7 495.8h3.3v3.3h-3.3zM1339.7 508.6h3.3v3.3h-3.3zM1344.3 489.4h3.3v3.3h-3.3zM1344.3 492.6h3.3v3.3h-3.3zM1344.3 495.8h3.3v3.3h-3.3zM1344.3 499h3.3v3.3h-3.3zM1344.3 502.2h3.3v3.3h-3.3zM1344.3 505.4h3.3v3.3h-3.3zM1344.3 508.6h3.3v3.3h-3.3zM1348.9 492.6h3.3v3.3h-3.3zM1348.9 495.8h3.3v3.3h-3.3zM1348.9 499h3.3v3.3h-3.3zM1348.9 502.2h3.3v3.3h-3.3zM1348.9 505.4h3.3v3.3h-3.3zM1348.9 508.6h3.3v3.3h-3.3zM1348.9 479.7h3.3v3.3h-3.3zM1353.6 492.6h3.3v3.3h-3.3zM1353.6 495.8h3.3v3.3h-3.3zM1353.6 499h3.3v3.3h-3.3zM1353.6 502.2h3.3v3.3h-3.3zM1353.6 505.4h3.3v3.3h-3.3zM1353.6 508.6h3.3v3.3h-3.3zM1358.2 489.4h3.3v3.3h-3.3zM1358.2 495.8h3.3v3.3h-3.3zM1358.2 499h3.3v3.3h-3.3zM1358.2 502.2h3.3v3.3h-3.3zM1358.2 505.4h3.3v3.3h-3.3zM1358.2 508.6h3.3v3.3h-3.3zM1362.8 489.4h3.3v3.3h-3.3zM1362.8 492.6h3.3v3.3h-3.3zM1362.8 495.8h3.3v3.3h-3.3zM1362.8 502.2h3.3v3.3h-3.3zM1362.8 508.6h3.3v3.3h-3.3zM1362.8 484.8h3.3v3.3h-3.3zM1367.5 489.4h3.3v3.3h-3.3zM1367.5 492.6h3.3v3.3h-3.3zM1367.5 495.8h3.3v3.3h-3.3zM1367.5 499h3.3v3.3h-3.3zM1367.5 502.2h3.3v3.3h-3.3zM1367.5 505.4h3.3v3.3h-3.3zM1372.1 489.4h3.3v3.3h-3.3zM1372.1 492.6h3.3v3.3h-3.3zM1372.1 495.8h3.3v3.3h-3.3zM1372.1 499h3.3v3.3h-3.3zM1372.1 505.4h3.3v3.3h-3.3zM1376.7 489.4h3.3v3.3h-3.3zM1376.7 492.6h3.3v3.3h-3.3zM1376.7 495.8h3.3v3.3h-3.3zM1376.7 505.4h3.3v3.3h-3.3zM1381.4 489.4h3.3v3.3h-3.3zM1381.4 492.6h3.3v3.3h-3.3zM1381.4 499h3.3v3.3h-3.3zM1381.4 505.4h3.3v3.3h-3.3zM1381.4 508.6h3.3v3.3h-3.3zM1386 489.4h3.3v3.3h-3.3zM1386 492.6h3.3v3.3h-3.3zM1386 499h3.3v3.3h-3.3zM1386 502.2h3.3v3.3h-3.3zM1386 505.4h3.3v3.3h-3.3zM1386 508.6h3.3v3.3h-3.3zM1390.6 489.4h3.3v3.3h-3.3zM1390.6 495.8h3.3v3.3h-3.3zM1390.6 499h3.3v3.3h-3.3zM1390.6 502.2h3.3v3.3h-3.3zM1390.6 505.4h3.3v3.3h-3.3zM1390.6 508.6h3.3v3.3h-3.3zM1395.3 489.4h3.3v3.3h-3.3zM1395.3 492.6h3.3v3.3h-3.3zM1395.3 499h3.3v3.3h-3.3zM1395.3 502.2h3.3v3.3h-3.3zM1395.3 505.4h3.3v3.3h-3.3zM1395.3 508.6h3.3v3.3h-3.3zM1399.9 489.4h3.3v3.3h-3.3zM1399.9 492.6h3.3v3.3h-3.3zM1399.9 495.8h3.3v3.3h-3.3zM1399.9 499h3.3v3.3h-3.3zM1399.9 502.2h3.3v3.3h-3.3zM1399.9 505.4h3.3v3.3h-3.3zM1399.9 508.6h3.3v3.3h-3.3zM1404.5 489.4h3.3v3.3h-3.3zM1404.5 492.6h3.3v3.3h-3.3zM1404.5 502.2h3.3v3.3h-3.3zM1404.5 505.4h3.3v3.3h-3.3zM1404.5 508.6h3.3v3.3h-3.3zM1409.2 492.6h3.3v3.3h-3.3zM1409.2 499h3.3v3.3h-3.3zM1409.2 502.2h3.3v3.3h-3.3zM1409.2 505.4h3.3v3.3h-3.3zM1409.2 508.6h3.3v3.3h-3.3zM1413.8 489.4h3.3v3.3h-3.3zM1413.8 495.8h3.3v3.3h-3.3zM1413.8 499h3.3v3.3h-3.3zM1413.8 502.2h3.3v3.3h-3.3zM1413.8 505.4h3.3v3.3h-3.3zM1413.8 508.6h3.3v3.3h-3.3zM1418.4 489.4h3.3v3.3h-3.3zM1418.4 492.6h3.3v3.3h-3.3zM1418.4 495.8h3.3v3.3h-3.3zM1418.4 499h3.3v3.3h-3.3zM1418.4 502.2h3.3v3.3h-3.3zM1418.4 505.4h3.3v3.3h-3.3zM1418.4 508.6h3.3v3.3h-3.3zM1423 489.4h3.3v3.3h-3.3zM1423 492.6h3.3v3.3h-3.3zM1423 495.8h3.3v3.3h-3.3zM1423 499h3.3v3.3h-3.3zM1423 505.4h3.3v3.3h-3.3zM1423 508.6h3.3v3.3h-3.3zM1427.7 489.4h3.3v3.3h-3.3zM1427.7 492.6h3.3v3.3h-3.3zM1427.7 495.8h3.3v3.3h-3.3zM1427.7 499h3.3v3.3h-3.3zM1427.7 502.2h3.3v3.3h-3.3zM1427.7 505.4h3.3v3.3h-3.3zM1427.7 508.6h3.3v3.3h-3.3zM1432.3 489.4h3.3v3.3h-3.3zM1432.3 492.6h3.3v3.3h-3.3zM1432.3 495.8h3.3v3.3h-3.3zM1432.3 502.2h3.3v3.3h-3.3zM1436.9 489.4h3.3v3.3h-3.3zM1436.9 492.6h3.3v3.3h-3.3zM1436.9 495.8h3.3v3.3h-3.3zM1436.9 499h3.3v3.3h-3.3zM1436.9 502.2h3.3v3.3h-3.3zM1436.9 505.4h3.3v3.3h-3.3zM1436.9 508.6h3.3v3.3h-3.3zM1441.6 489.4h3.3v3.3h-3.3zM1441.6 495.8h3.3v3.3h-3.3zM1441.6 499h3.3v3.3h-3.3zM1441.6 502.2h3.3v3.3h-3.3zM1441.6 505.4h3.3v3.3h-3.3zM1446.2 489.4h3.3v3.3h-3.3zM1446.2 492.6h3.3v3.3h-3.3zM1446.2 495.8h3.3v3.3h-3.3zM1446.2 499h3.3v3.3h-3.3zM1446.2 502.2h3.3v3.3h-3.3zM1446.2 505.4h3.3v3.3h-3.3zM1446.2 508.6h3.3v3.3h-3.3zM1446.2 479.8h3.3v3.3h-3.3zM1450.8 489.4h3.3v3.3h-3.3zM1450.8 492.6h3.3v3.3h-3.3zM1450.8 499h3.3v3.3h-3.3zM1450.8 502.2h3.3v3.3h-3.3zM1450.8 505.4h3.3v3.3h-3.3zM1450.8 508.6h3.3v3.3h-3.3zM1455.5 489.4h3.3v3.3h-3.3zM1455.5 492.6h3.3v3.3h-3.3zM1455.5 499h3.3v3.3h-3.3zM1455.5 502.2h3.3v3.3h-3.3zM1455.5 505.4h3.3v3.3h-3.3zM1460.1 489.4h3.3v3.3h-3.3zM1460.1 492.6h3.3v3.3h-3.3zM1460.1 495.8h3.3v3.3h-3.3zM1460.1 499h3.3v3.3h-3.3zM1460.1 502.2h3.3v3.3h-3.3zM1460.1 508.6h3.3v3.3h-3.3zM1464.7 489.4h3.3v3.3h-3.3zM1464.7 492.6h3.3v3.3h-3.3zM1464.7 495.8h3.3v3.3h-3.3zM1464.7 502.2h3.3v3.3h-3.3zM1464.7 505.4h3.3v3.3h-3.3zM1469.4 492.6h3.3v3.3h-3.3zM1469.4 495.8h3.3v3.3h-3.3zM1469.4 502.2h3.3v3.3h-3.3zM1469.4 505.4h3.3v3.3h-3.3zM1469.4 508.6h3.3v3.3h-3.3zM1474 489.4h3.3v3.3h-3.3zM1474 492.6h3.3v3.3h-3.3zM1474 499h3.3v3.3h-3.3zM1474 502.2h3.3v3.3h-3.3zM1474 505.4h3.3v3.3h-3.3zM1474 508.6h3.3v3.3h-3.3zM1478.6 489.4h3.3v3.3h-3.3zM1478.6 492.6h3.3v3.3h-3.3zM1478.6 499h3.3v3.3h-3.3zM1478.6 502.2h3.3v3.3h-3.3zM1478.6 505.4h3.3v3.3h-3.3zM1478.6 508.6h3.3v3.3h-3.3zM1483.3 489.4h3.3v3.3h-3.3zM1483.3 492.6h3.3v3.3h-3.3zM1483.3 495.8h3.3v3.3h-3.3zM1483.3 499h3.3v3.3h-3.3zM1483.3 502.2h3.3v3.3h-3.3zM1483.3 505.4h3.3v3.3h-3.3zM1483.3 508.6h3.3v3.3h-3.3zM1487.9 489.4h3.3v3.3h-3.3zM1487.9 492.6h3.3v3.3h-3.3zM1487.9 499h3.3v3.3h-3.3zM1487.9 502.2h3.3v3.3h-3.3zM1487.9 508.6h3.3v3.3h-3.3zM1492.5 489.4h3.3v3.3h-3.3zM1492.5 495.8h3.3v3.3h-3.3zM1492.5 499h3.3v3.3h-3.3zM1492.5 502.2h3.3v3.3h-3.3zM1492.5 505.4h3.3v3.3h-3.3zM1492.5 508.6h3.3v3.3h-3.3zM1497.2 489.4h3.3v3.3h-3.3zM1497.2 495.8h3.3v3.3h-3.3zM1497.2 499h3.3v3.3h-3.3zM1497.2 502.2h3.3v3.3h-3.3zM1497.2 505.4h3.3v3.3h-3.3zM1497.2 508.6h3.3v3.3h-3.3zM1501.8 489.4h3.3v3.3h-3.3zM1501.8 492.6h3.3v3.3h-3.3zM1501.8 495.8h3.3v3.3h-3.3zM1501.8 499h3.3v3.3h-3.3zM1501.8 502.2h3.3v3.3h-3.3zM1501.8 505.4h3.3v3.3h-3.3zM1501.8 508.6h3.3v3.3h-3.3zM1506.4 489.4h3.3v3.3h-3.3zM1506.4 492.6h3.3v3.3h-3.3zM1506.4 499h3.3v3.3h-3.3zM1506.4 502.2h3.3v3.3h-3.3zM1506.4 505.4h3.3v3.3h-3.3zM1511.1 489.4h3.3v3.3h-3.3zM1511.1 492.6h3.3v3.3h-3.3zM1511.1 495.8h3.3v3.3h-3.3zM1511.1 499h3.3v3.3h-3.3zM1511.1 502.2h3.3v3.3h-3.3zM1511.1 505.4h3.3v3.3h-3.3zM1515.7 489.4h3.3v3.3h-3.3zM1515.7 495.8h3.3v3.3h-3.3zM1515.7 499h3.3v3.3h-3.3zM1515.7 502.2h3.3v3.3h-3.3zM1515.7 505.4h3.3v3.3h-3.3zM1515.7 508.6h3.3v3.3h-3.3zM1520.3 492.6h3.3v3.3h-3.3zM1520.3 495.8h3.3v3.3h-3.3zM1520.3 499h3.3v3.3h-3.3zM1520.3 508.6h3.3v3.3h-3.3zM1524.9 492.6h3.3v3.3h-3.3zM1524.9 495.8h3.3v3.3h-3.3zM1524.9 499h3.3v3.3h-3.3zM1524.9 505.4h3.3v3.3h-3.3zM1524.9 508.6h3.3v3.3h-3.3z" fill="#c2c2c2"/>
<path d="M901.3 510.5L905.9 514.6L910.6 518.1L915.2 522.7L919.8 520.1L924.5 517.5L929.1 515L933.7 516L938.4 516.4L943 516.9L947.6 516.6L952.3 516.4L956.9 516.2L961.5 516.6L966.1 516.3L970.8 518.9L975.4 520.2L980 521.4L984.7 523L989.3 522.2L993.9 521.7L998.6 521.4L1003.2 519.6L1007.8 515.4L1012.5 509.9L1017.1 504.4L1021.7 497.7L1026.4 489.9L1031 480.8L1035.6 468.6L1040.3 457.6L1044.9 447.7L1049.5 439.2L1054.2 428.9L1058.8 412.9L1063.4 401.4L1068 395.2L1072.7 388.3L1077.3 384.2L1081.9 380.9L1086.6 376.4L1091.2 373.7L1095.8 371.3L1100.5 367.9L1105.1 357.1L1109.7 353.2L1114.4 352.9L1119 353.3L1123.6 352.7L1128.3 352.1L1132.9 353.7L1137.5 353.1L1142.2 353.9L1146.8 353.5L1151.4 353.2L1156.1 353.4L1160.7 352.8L1165.3 352.5L1169.9 352.6L1174.6 352.6L1179.2 353.1L1183.8 354.1L1188.5 353.1L1193.1 352.6L1197.7 353.2L1202.4 353.4L1207 353.8L1211.6 353.1L1216.3 353.4L1220.9 353.2L1225.5 352.3L1230.2 352.8L1234.8 352.1L1239.4 352.7L1244.1 352.6L1248.7 352.7L1253.3 353.9L1258 354.4L1262.6 354L1267.2 353.8L1271.8 353.1L1276.5 353.7L1281.1 353.8L1285.7 353L1290.4 352.2L1295 352.5L1299.6 352.6L1304.3 353.2L1308.9 352.6L1313.5 352.3L1318.2 352.8L1322.8 353L1327.4 353.5L1332.1 353.9L1336.7 353.1L1341.3 351.8L1346 352.3L1350.6 352.2L1355.2 352.7L1359.9 351.4L1364.5 352L1369.1 352.5L1373.7 352.4L1378.4 352.9L1383 353L1387.6 353.1L1392.3 353.8L1396.9 354.1L1401.5 354.3L1406.2 354L1410.8 353.7L1415.4 353.7L1420.1 353.6L1424.7 353L1429.3 353.2L1434 353.6L1438.6 353.2L1443.2 352.6L1447.9 353L1452.5 352.6L1457.1 352L1461.8 352.3L1466.4 351.8L1471 352.5L1475.6 352.4L1480.3 352.7L1484.9 353.4L1489.5 353.8L1494.2 353.5L1498.8 352.1L1503.4 352.2L1508.1 352L1512.7 352.8L1517.3 353.7L1522 353.8L1526.6 353.8" fill="none" stroke="#0606f0" stroke-width="0.7" stroke-opacity="0.75"/>
<path d="M901.3 510.5h0M905.9 514.6h0M910.6 518.1h0M915.2 522.7h0M919.8 520.1h0M924.5 517.5h0M929.1 515h0M933.7 516h0M938.4 516.4h0M943 516.9h0M947.6 516.6h0M952.3 516.4h0M956.9 516.2h0M961.5 516.6h0M966.1 516.3h0M970.8 518.9h0M975.4 520.2h0M980 521.4h0M984.7 523h0M989.3 522.2h0M993.9 521.7h0M998.6 521.4h0M1003.2 519.6h0M1007.8 515.4h0M1012.5 509.9h0M1017.1 504.4h0M1021.7 497.7h0M1026.4 489.9h0M1031 480.8h0M1035.6 468.6h0M1040.3 457.6h0M1044.9 447.7h0M1049.5 439.2h0M1054.2 428.9h0M1058.8 412.9h0M1063.4 401.4h0M1068 395.2h0M1072.7 388.3h0M1077.3 384.2h0M1081.9 380.9h0M1086.6 376.4h0M1091.2 373.7h0M1095.8 371.3h0M1100.5 367.9h0M1105.1 357.1h0M1109.7 353.2h0M1114.4 352.9h0M1119 353.3h0M1123.6 352.7h0M1128.3 352.1h0M1132.9 353.7h0M1137.5 353.1h0M1142.2 353.9h0M1146.8 353.5h0M1151.4 353.2h0M1156.1 353.4h0M1160.7 352.8h0M1165.3 352.5h0M1169.9 352.6h0M1174.6 352.6h0M1179.2 353.1h0M1183.8 354.1h0M1188.5 353.1h0M1193.1 352.6h0M1197.7 353.2h0M1202.4 353.4h0M1207 353.8h0M1211.6 353.1h0M1216.3 353.4h0M1220.9 353.2h0M1225.5 352.3h0M1230.2 352.8h0M1234.8 352.1h0M1239.4 352.7h0M1244.1 352.6h0M1248.7 352.7h0M1253.3 353.9h0M1258 354.4h0M1262.6 354h0M1267.2 353.8h0M1271.8 353.1h0M1276.5 353.7h0M1281.1 353.8h0M1285.7 353h0M1290.4 352.2h0M1295 352.5h0M1299.6 352.6h0M1304.3 353.2h0M1308.9 352.6h0M1313.5 352.3h0M1318.2 352.8h0M1322.8 353h0M1327.4 353.5h0M1332.1 353.9h0M1336.7 353.1h0M1341.3 351.8h0M1346 352.3h0M1350.6 352.2h0M1355.2 352.7h0M1359.9 351.4h0M1364.5 352h0M1369.1 352.5h0M1373.7 352.4h0M1378.4 352.9h0M1383 353h0M1387.6 353.1h0M1392.3 353.8h0M1396.9 354.1h0M1401.5 354.3h0M1406.2 354h0M1410.8 353.7h0M1415.4 353.7h0M1420.1 353.6h0M1424.7 353h0M1429.3 353.2h0M1434 353.6h0M1438.6 353.2h0M1443.2 352.6h0M1447.9 353h0M1452.5 352.6h0M1457.1 352h0M1461.8 352.3h0M1466.4 351.8h0M1471 352.5h0M1475.6 352.4h0M1480.3 352.7h0M1484.9 353.4h0M1489.5 353.8h0M1494.2 353.5h0M1498.8 352.1h0M1503.4 352.2h0M1508.1 352h0M1512.7 352.8h0M1517.3 353.7h0M1522 353.8h0M1526.6 353.8h0" fill="none" stroke="#0606f0" stroke-width="5.4" stroke-linecap="round"/>
<path d="M901.3 504.8L905.9 506L910.6 506L915.2 509.7L919.8 508L924.5 509.4L929.1 511.8L933.7 513L938.4 514.1L943 512.9L947.6 516.1L952.3 515.2L956.9 515.7L961.5 516.4L966.1 517.1L970.8 517.2L975.4 520.1L980 520.3L984.7 521.9L989.3 518.1L993.9 517.9L998.6 516.4L1003.2 515.7L1007.8 514.3L1012.5 507.9L1017.1 500.7L1021.7 493.8L1026.4 483.4L1031 472.9L1035.6 460L1040.3 446.8L1044.9 435.8L1049.5 422.1L1054.2 409L1058.8 393.7L1063.4 380.7L1068 365.7L1072.7 350.7L1077.3 335.4L1081.9 319.9L1086.6 307.4L1091.2 300.4L1095.8 293.3L1100.5 287.7L1105.1 277.8L1109.7 275.4L1114.4 270.7L1119 266.9L1123.6 261L1128.3 258.4L1132.9 253.4L1137.5 251.3L1142.2 248.4L1146.8 245.6L1151.4 242.3L1156.1 239.4L1160.7 238.3L1165.3 238.8L1169.9 238.6L1174.6 238.6L1179.2 241.3L1183.8 240.1L1188.5 238.1L1193.1 235.3L1197.7 233.3L1202.4 235.3L1207 237.4L1211.6 236.3L1216.3 235.5L1220.9 236.2L1225.5 237L1230.2 238.5L1234.8 238.1L1239.4 237.2L1244.1 238.3L1248.7 236.9L1253.3 235.5L1258 235L1262.6 235.7L1267.2 236L1271.8 236.7L1276.5 237.1L1281.1 240.2L1285.7 239.7L1290.4 236.2L1295 235.1L1299.6 236.3L1304.3 235.8L1308.9 239.2L1313.5 238L1318.2 237.3L1322.8 237.5L1327.4 237.2L1332.1 238L1336.7 237.5L1341.3 237.9L1346 236.9L1350.6 233.9L1355.2 235.8L1359.9 238.5L1364.5 236.9L1369.1 236.4L1373.7 237.8L1378.4 237L1383 237.3L1387.6 237L1392.3 237.9L1396.9 237.5L1401.5 239.9L1406.2 238.9L1410.8 238L1415.4 235.9L1420.1 236.6L1424.7 235.7L1429.3 237.1L1434 237.8L1438.6 240.8L1443.2 238.4L1447.9 238.1L1452.5 239L1457.1 235.8L1461.8 237.1L1466.4 239.4L1471 238.6L1475.6 238L1480.3 239.1L1484.9 238.7L1489.5 238.4L1494.2 238.9L1498.8 237.2L1503.4 239.5L1508.1 238.1L1512.7 237.7L1517.3 236.9L1522 233.8L1526.6 233.1" fill="none" stroke="#0606f0" stroke-width="0.7" stroke-opacity="0.75"/>
<path d="M901.3 504.8h0M905.9 506h0M910.6 506h0M915.2 509.7h0M919.8 508h0M924.5 509.4h0M929.1 511.8h0M933.7 513h0M938.4 514.1h0M943 512.9h0M947.6 516.1h0M952.3 515.2h0M956.9 515.7h0M961.5 516.4h0M966.1 517.1h0M970.8 517.2h0M975.4 520.1h0M980 520.3h0M984.7 521.9h0M989.3 518.1h0M993.9 517.9h0M998.6 516.4h0M1003.2 515.7h0M1007.8 514.3h0M1012.5 507.9h0M1017.1 500.7h0M1021.7 493.8h0M1026.4 483.4h0M1031 472.9h0M1035.6 460h0M1040.3 446.8h0M1044.9 435.8h0M1049.5 422.1h0M1054.2 409h0M1058.8 393.7h0M1063.4 380.7h0M1068 365.7h0M1072.7 350.7h0M1077.3 335.4h0M1081.9 319.9h0M1086.6 307.4h0M1091.2 300.4h0M1095.8 293.3h0M1100.5 287.7h0M1105.1 277.8h0M1109.7 275.4h0M1114.4 270.7h0M1119 266.9h0M1123.6 261h0M1128.3 258.4h0M1132.9 253.4h0M1137.5 251.3h0M1142.2 248.4h0M1146.8 245.6h0M1151.4 242.3h0M1156.1 239.4h0M1160.7 238.3h0M1165.3 238.8h0M1169.9 238.6h0M1174.6 238.6h0M1179.2 241.3h0M1183.8 240.1h0M1188.5 238.1h0M1193.1 235.3h0M1197.7 233.3h0M1202.4 235.3h0M1207 237.4h0M1211.6 236.3h0M1216.3 235.5h0M1220.9 236.2h0M1225.5 237h0M1230.2 238.5h0M1234.8 238.1h0M1239.4 237.2h0M1244.1 238.3h0M1248.7 236.9h0M1253.3 235.5h0M1258 235h0M1262.6 235.7h0M1267.2 236h0M1271.8 236.7h0M1276.5 237.1h0M1281.1 240.2h0M1285.7 239.7h0M1290.4 236.2h0M1295 235.1h0M1299.6 236.3h0M1304.3 235.8h0M1308.9 239.2h0M1313.5 238h0M1318.2 237.3h0M1322.8 237.5h0M1327.4 237.2h0M1332.1 238h0M1336.7 237.5h0M1341.3 237.9h0M1346 236.9h0M1350.6 233.9h0M1355.2 235.8h0M1359.9 238.5h0M1364.5 236.9h0M1369.1 236.4h0M1373.7 237.8h0M1378.4 237h0M1383 237.3h0M1387.6 237h0M1392.3 237.9h0M1396.9 237.5h0M1401.5 239.9h0M1406.2 238.9h0M1410.8 238h0M1415.4 235.9h0M1420.1 236.6h0M1424.7 235.7h0M1429.3 237.1h0M1434 237.8h0M1438.6 240.8h0M1443.2 238.4h0M1447.9 238.1h0M1452.5 239h0M1457.1 235.8h0M1461.8 237.1h0M1466.4 239.4h0M1471 238.6h0M1475.6 238h0M1480.3 239.1h0M1484.9 238.7h0M1489.5 238.4h0M1494.2 238.9h0M1498.8 237.2h0M1503.4 239.5h0M1508.1 238.1h0M1512.7 237.7h0M1517.3 236.9h0M1522 233.8h0M1526.6 233.1h0" fill="none" stroke="#0606f0" stroke-width="5.4" stroke-linecap="round"/>
<path d="M901.3 497.7L905.9 498.8L910.6 500.2L915.2 501.1L919.8 502L924.5 502.9L929.1 504.5L933.7 505.5L938.4 506.3L943 507L947.6 507.5L952.3 508.8L956.9 509.7L961.5 510.8L966.1 512.3L970.8 513.1L975.4 514L980 515.2L984.7 515.9L989.3 514.7L993.9 512.9L998.6 511.3L1003.2 509.6L1007.8 508.4L1012.5 502.2L1017.1 495.3L1021.7 486.8L1026.4 476.3L1031 465.4L1035.6 452.7L1040.3 440.3L1044.9 428.7L1049.5 414.5L1054.2 398L1058.8 383.5L1063.4 369.7L1068 356.5L1072.7 343.9L1077.3 331.2L1081.9 317.9L1086.6 304.6L1091.2 291L1095.8 276.7L1100.5 269.3L1105.1 262.6L1109.7 255.6L1114.4 248.9L1119 241.9L1123.6 235.6L1128.3 229.3L1132.9 224L1137.5 219.5L1142.2 214.9L1146.8 210.2L1151.4 205.4L1156.1 201.5L1160.7 197.5L1165.3 193.5L1169.9 189.7L1174.6 186.1L1179.2 182.5L1183.8 179.4L1188.5 176.4L1193.1 173.5L1197.7 170.1L1202.4 167.8L1207 165.6L1211.6 163.1L1216.3 160.8L1220.9 158.7L1225.5 157L1230.2 155.7L1234.8 154.2L1239.4 153.6L1244.1 152.2L1248.7 151.3L1253.3 150.3L1258 149.8L1262.6 149.3L1267.2 148.9L1271.8 148.4L1276.5 148.2L1281.1 148L1285.7 148.1L1290.4 147.9L1295 147.9L1299.6 148.4L1304.3 147.7L1308.9 147.8L1313.5 147.9L1318.2 147.5L1322.8 148L1327.4 147.9L1332.1 148.1L1336.7 148.2L1341.3 148.5L1346 148.2L1350.6 147.9L1355.2 147.6L1359.9 147.4L1364.5 148.2L1369.1 148L1373.7 147.5L1378.4 147.9L1383 148.5L1387.6 148L1392.3 148L1396.9 147.6L1401.5 147.2L1406.2 147.5L1410.8 147.4L1415.4 147.3L1420.1 147.6L1424.7 147.9L1429.3 147.9L1434 148.3L1438.6 148L1443.2 147.9L1447.9 148.2L1452.5 148.8L1457.1 149L1461.8 148.9L1466.4 148.6L1471 148L1475.6 148.4L1480.3 148.2L1484.9 148.8L1489.5 148.5L1494.2 147.8L1498.8 148.2L1503.4 148.2L1508.1 148L1512.7 148L1517.3 148L1522 148.1L1526.6 147.6" fill="none" stroke="#0606f0" stroke-width="0.7" stroke-opacity="0.75"/>
<path d="M901.3 497.7h0M905.9 498.8h0M910.6 500.2h0M915.2 501.1h0M919.8 502h0M924.5 502.9h0M929.1 504.5h0M933.7 505.5h0M938.4 506.3h0M943 507h0M947.6 507.5h0M952.3 508.8h0M956.9 509.7h0M961.5 510.8h0M966.1 512.3h0M970.8 513.1h0M975.4 514h0M980 515.2h0M984.7 515.9h0M989.3 514.7h0M993.9 512.9h0M998.6 511.3h0M1003.2 509.6h0M1007.8 508.4h0M1012.5 502.2h0M1017.1 495.3h0M1021.7 486.8h0M1026.4 476.3h0M1031 465.4h0M1035.6 452.7h0M1040.3 440.3h0M1044.9 428.7h0M1049.5 414.5h0M1054.2 398h0M1058.8 383.5h0M1063.4 369.7h0M1068 356.5h0M1072.7 343.9h0M1077.3 331.2h0M1081.9 317.9h0M1086.6 304.6h0M1091.2 291h0M1095.8 276.7h0M1100.5 269.3h0M1105.1 262.6h0M1109.7 255.6h0M1114.4 248.9h0M1119 241.9h0M1123.6 235.6h0M1128.3 229.3h0M1132.9 224h0M1137.5 219.5h0M1142.2 214.9h0M1146.8 210.2h0M1151.4 205.4h0M1156.1 201.5h0M1160.7 197.5h0M1165.3 193.5h0M1169.9 189.7h0M1174.6 186.1h0M1179.2 182.5h0M1183.8 179.4h0M1188.5 176.4h0M1193.1 173.5h0M1197.7 170.1h0M1202.4 167.8h0M1207 165.6h0M1211.6 163.1h0M1216.3 160.8h0M1220.9 158.7h0M1225.5 157h0M1230.2 155.7h0M1234.8 154.2h0M1239.4 153.6h0M1244.1 152.2h0M1248.7 151.3h0M1253.3 150.3h0M1258 149.8h0M1262.6 149.3h0M1267.2 148.9h0M1271.8 148.4h0M1276.5 148.2h0M1281.1 148h0M1285.7 148.1h0M1290.4 147.9h0M1295 147.9h0M1299.6 148.4h0M1304.3 147.7h0M1308.9 147.8h0M1313.5 147.9h0M1318.2 147.5h0M1322.8 148h0M1327.4 147.9h0M1332.1 148.1h0M1336.7 148.2h0M1341.3 148.5h0M1346 148.2h0M1350.6 147.9h0M1355.2 147.6h0M1359.9 147.4h0M1364.5 148.2h0M1369.1 148h0M1373.7 147.5h0M1378.4 147.9h0M1383 148.5h0M1387.6 148h0M1392.3 148h0M1396.9 147.6h0M1401.5 147.2h0M1406.2 147.5h0M1410.8 147.4h0M1415.4 147.3h0M1420.1 147.6h0M1424.7 147.9h0M1429.3 147.9h0M1434 148.3h0M1438.6 148h0M1443.2 147.9h0M1447.9 148.2h0M1452.5 148.8h0M1457.1 149h0M1461.8 148.9h0M1466.4 148.6h0M1471 148h0M1475.6 148.4h0M1480.3 148.2h0M1484.9 148.8h0M1489.5 148.5h0M1494.2 147.8h0M1498.8 148.2h0M1503.4 148.2h0M1508.1 148h0M1512.7 148h0M1517.3 148h0M1522 148.1h0M1526.6 147.6h0" fill="none" stroke="#0606f0" stroke-width="5.4" stroke-linecap="round"/>
<path d="M901.3 491.9L905.9 493L910.6 494.4L915.2 495.2L919.8 496.5L924.5 497.5L929.1 498.9L933.7 499.7L938.4 500.6L943 501.6L947.6 502.5L952.3 503.4L956.9 504.3L961.5 505.5L966.1 506.6L970.8 507.4L975.4 508.6L980 509.8L984.7 510.9L989.3 509.7L993.9 508.1L998.6 506.1L1003.2 504.7L1007.8 502.7L1012.5 497L1017.1 491.3L1021.7 481.9L1026.4 471.6L1031 459L1035.6 446.2L1040.3 434.4L1044.9 422.8L1049.5 407L1054.2 391.2L1058.8 377.3L1063.4 363.2L1068 350.6L1072.7 337.6L1077.3 324.7L1081.9 311.8L1086.6 298.7L1091.2 288L1095.8 276.9L1100.5 267.7L1105.1 260.3L1109.7 252.7L1114.4 245.4L1119 237.9L1123.6 230.5L1128.3 222.6L1132.9 215.8L1137.5 210.6L1142.2 205.3L1146.8 199.8L1151.4 194.2L1156.1 189.1L1160.7 184.5L1165.3 179.8L1169.9 176.1L1174.6 172.3L1179.2 168.6L1183.8 165.2L1188.5 161.9L1193.1 158.4L1197.7 154.7L1202.4 152L1207 149.5L1211.6 146.4L1216.3 143.6L1220.9 141.1L1225.5 139.4L1230.2 137.4L1234.8 135.1L1239.4 133.1L1244.1 131.1L1248.7 129.3L1253.3 127.7L1258 126.4L1262.6 124.7L1267.2 123.8L1271.8 122.4L1276.5 121.2L1281.1 120L1285.7 118.9L1290.4 118L1295 117.5L1299.6 117L1304.3 116.1L1308.9 115L1313.5 114.5L1318.2 114.2L1322.8 114.1L1327.4 113.7L1332.1 113.2L1336.7 113.3L1341.3 112.7L1346 112.3L1350.6 112.4L1355.2 112.2L1359.9 111.9L1364.5 111.5L1369.1 111.5L1373.7 111.4L1378.4 111.1L1383 111L1387.6 110.6L1392.3 110.7L1396.9 110.4L1401.5 110.5L1406.2 110.3L1410.8 110.2L1415.4 110.2L1420.1 110.1L1424.7 110.3L1429.3 110.2L1434 110.3L1438.6 110.4L1443.2 110.5L1447.9 110.5L1452.5 110.4L1457.1 110.6L1461.8 110.4L1466.4 110.2L1471 110.3L1475.6 110.5L1480.3 110.1L1484.9 110L1489.5 110.3L1494.2 110.2L1498.8 109.9L1503.4 110.1L1508.1 110.1L1512.7 110.1L1517.3 109.8L1522 109.8L1526.6 109.8" fill="none" stroke="#0606f0" stroke-width="0.7" stroke-opacity="0.75"/>
<path d="M901.3 491.9h0M905.9 493h0M910.6 494.4h0M915.2 495.2h0M919.8 496.5h0M924.5 497.5h0M929.1 498.9h0M933.7 499.7h0M938.4 500.6h0M943 501.6h0M947.6 502.5h0M952.3 503.4h0M956.9 504.3h0M961.5 505.5h0M966.1 506.6h0M970.8 507.4h0M975.4 508.6h0M980 509.8h0M984.7 510.9h0M989.3 509.7h0M993.9 508.1h0M998.6 506.1h0M1003.2 504.7h0M1007.8 502.7h0M1012.5 497h0M1017.1 491.3h0M1021.7 481.9h0M1026.4 471.6h0M1031 459h0M1035.6 446.2h0M1040.3 434.4h0M1044.9 422.8h0M1049.5 407h0M1054.2 391.2h0M1058.8 377.3h0M1063.4 363.2h0M1068 350.6h0M1072.7 337.6h0M1077.3 324.7h0M1081.9 311.8h0M1086.6 298.7h0M1091.2 288h0M1095.8 276.9h0M1100.5 267.7h0M1105.1 260.3h0M1109.7 252.7h0M1114.4 245.4h0M1119 237.9h0M1123.6 230.5h0M1128.3 222.6h0M1132.9 215.8h0M1137.5 210.6h0M1142.2 205.3h0M1146.8 199.8h0M1151.4 194.2h0M1156.1 189.1h0M1160.7 184.5h0M1165.3 179.8h0M1169.9 176.1h0M1174.6 172.3h0M1179.2 168.6h0M1183.8 165.2h0M1188.5 161.9h0M1193.1 158.4h0M1197.7 154.7h0M1202.4 152h0M1207 149.5h0M1211.6 146.4h0M1216.3 143.6h0M1220.9 141.1h0M1225.5 139.4h0M1230.2 137.4h0M1234.8 135.1h0M1239.4 133.1h0M1244.1 131.1h0M1248.7 129.3h0M1253.3 127.7h0M1258 126.4h0M1262.6 124.7h0M1267.2 123.8h0M1271.8 122.4h0M1276.5 121.2h0M1281.1 120h0M1285.7 118.9h0M1290.4 118h0M1295 117.5h0M1299.6 117h0M1304.3 116.1h0M1308.9 115h0M1313.5 114.5h0M1318.2 114.2h0M1322.8 114.1h0M1327.4 113.7h0M1332.1 113.2h0M1336.7 113.3h0M1341.3 112.7h0M1346 112.3h0M1350.6 112.4h0M1355.2 112.2h0M1359.9 111.9h0M1364.5 111.5h0M1369.1 111.5h0M1373.7 111.4h0M1378.4 111.1h0M1383 111h0M1387.6 110.6h0M1392.3 110.7h0M1396.9 110.4h0M1401.5 110.5h0M1406.2 110.3h0M1410.8 110.2h0M1415.4 110.2h0M1420.1 110.1h0M1424.7 110.3h0M1429.3 110.2h0M1434 110.3h0M1438.6 110.4h0M1443.2 110.5h0M1447.9 110.5h0M1452.5 110.4h0M1457.1 110.6h0M1461.8 110.4h0M1466.4 110.2h0M1471 110.3h0M1475.6 110.5h0M1480.3 110.1h0M1484.9 110h0M1489.5 110.3h0M1494.2 110.2h0M1498.8 109.9h0M1503.4 110.1h0M1508.1 110.1h0M1512.7 110.1h0M1517.3 109.8h0M1522 109.8h0M1526.6 109.8h0" fill="none" stroke="#0606f0" stroke-width="5.4" stroke-linecap="round"/>
<path d="M901.3 484.1L905.9 485.4L910.6 486.7L915.2 487.7L919.8 489L924.5 490.7L929.1 491.6L933.7 492.6L938.4 493.6L943 494.2L947.6 495.2L952.3 496.4L956.9 497.3L961.5 498.2L966.1 499.5L970.8 500.6L975.4 501.9L980 503.1L984.7 504.3L989.3 502.8L993.9 501.5L998.6 499.9L1003.2 498.4L1007.8 496.6L1012.5 491.9L1017.1 486.7L1021.7 476.2L1026.4 465.4L1031 452.6L1035.6 440L1040.3 428.4L1044.9 415.6L1049.5 399.8L1054.2 384.3L1058.8 370.5L1063.4 356.5L1068 343.8L1072.7 331L1077.3 318L1081.9 305.1L1086.6 292.4L1091.2 281.2L1095.8 270.1L1100.5 262.5L1105.1 255.4L1109.7 247.8L1114.4 240.3L1119 232.8L1123.6 225.6L1128.3 218.3L1132.9 212.1L1137.5 206.4L1142.2 200.9L1146.8 195.2L1151.4 189.6L1156.1 184.7L1160.7 180.2L1165.3 175.5L1169.9 172.1L1174.6 168.4L1179.2 165.4L1183.8 162.3L1188.5 159L1193.1 155.7L1197.7 152.6L1202.4 149.5L1207 146.9L1211.6 144L1216.3 141.2L1220.9 138.4L1225.5 136.1L1230.2 133.7L1234.8 131.3L1239.4 129.1L1244.1 127.2L1248.7 125.3L1253.3 123.2L1258 121.3L1262.6 119.4L1267.2 117.8L1271.8 116.4L1276.5 115L1281.1 113.7L1285.7 112.3L1290.4 111.2L1295 110.2L1299.6 109.2L1304.3 108.3L1308.9 107.2L1313.5 106.6L1318.2 106L1322.8 105.4L1327.4 104.9L1332.1 104L1336.7 103.7L1341.3 103.1L1346 102.5L1350.6 101.7L1355.2 101.2L1359.9 100.5L1364.5 100L1369.1 99.7L1373.7 99.3L1378.4 98.8L1383 98.4L1387.6 98.6L1392.3 97.9L1396.9 97.5L1401.5 97L1406.2 96.7L1410.8 96.6L1415.4 96.2L1420.1 95.8L1424.7 95.8L1429.3 95.7L1434 95.5L1438.6 95.6L1443.2 95.3L1447.9 95.2L1452.5 94.8L1457.1 95L1461.8 94.8L1466.4 94.7L1471 94.7L1475.6 94.5L1480.3 94.5L1484.9 94.5L1489.5 94.6L1494.2 94.2L1498.8 94.2L1503.4 94.1L1508.1 93.9L1512.7 93.7L1517.3 93.8L1522 93.5L1526.6 93.3" fill="none" stroke="#0606f0" stroke-width="0.7" stroke-opacity="0.75"/>
<path d="M901.3 484.1h0M905.9 485.4h0M910.6 486.7h0M915.2 487.7h0M919.8 489h0M924.5 490.7h0M929.1 491.6h0M933.7 492.6h0M938.4 493.6h0M943 494.2h0M947.6 495.2h0M952.3 496.4h0M956.9 497.3h0M961.5 498.2h0M966.1 499.5h0M970.8 500.6h0M975.4 501.9h0M980 503.1h0M984.7 504.3h0M989.3 502.8h0M993.9 501.5h0M998.6 499.9h0M1003.2 498.4h0M1007.8 496.6h0M1012.5 491.9h0M1017.1 486.7h0M1021.7 476.2h0M1026.4 465.4h0M1031 452.6h0M1035.6 440h0M1040.3 428.4h0M1044.9 415.6h0M1049.5 399.8h0M1054.2 384.3h0M1058.8 370.5h0M1063.4 356.5h0M1068 343.8h0M1072.7 331h0M1077.3 318h0M1081.9 305.1h0M1086.6 292.4h0M1091.2 281.2h0M1095.8 270.1h0M1100.5 262.5h0M1105.1 255.4h0M1109.7 247.8h0M1114.4 240.3h0M1119 232.8h0M1123.6 225.6h0M1128.3 218.3h0M1132.9 212.1h0M1137.5 206.4h0M1142.2 200.9h0M1146.8 195.2h0M1151.4 189.6h0M1156.1 184.7h0M1160.7 180.2h0M1165.3 175.5h0M1169.9 172.1h0M1174.6 168.4h0M1179.2 165.4h0M1183.8 162.3h0M1188.5 159h0M1193.1 155.7h0M1197.7 152.6h0M1202.4 149.5h0M1207 146.9h0M1211.6 144h0M1216.3 141.2h0M1220.9 138.4h0M1225.5 136.1h0M1230.2 133.7h0M1234.8 131.3h0M1239.4 129.1h0M1244.1 127.2h0M1248.7 125.3h0M1253.3 123.2h0M1258 121.3h0M1262.6 119.4h0M1267.2 117.8h0M1271.8 116.4h0M1276.5 115h0M1281.1 113.7h0M1285.7 112.3h0M1290.4 111.2h0M1295 110.2h0M1299.6 109.2h0M1304.3 108.3h0M1308.9 107.2h0M1313.5 106.6h0M1318.2 106h0M1322.8 105.4h0M1327.4 104.9h0M1332.1 104h0M1336.7 103.7h0M1341.3 103.1h0M1346 102.5h0M1350.6 101.7h0M1355.2 101.2h0M1359.9 100.5h0M1364.5 100h0M1369.1 99.7h0M1373.7 99.3h0M1378.4 98.8h0M1383 98.4h0M1387.6 98.6h0M1392.3 97.9h0M1396.9 97.5h0M1401.5 97h0M1406.2 96.7h0M1410.8 96.6h0M1415.4 96.2h0M1420.1 95.8h0M1424.7 95.8h0M1429.3 95.7h0M1434 95.5h0M1438.6 95.6h0M1443.2 95.3h0M1447.9 95.2h0M1452.5 94.8h0M1457.1 95h0M1461.8 94.8h0M1466.4 94.7h0M1471 94.7h0M1475.6 94.5h0M1480.3 94.5h0M1484.9 94.5h0M1489.5 94.6h0M1494.2 94.2h0M1498.8 94.2h0M1503.4 94.1h0M1508.1 93.9h0M1512.7 93.7h0M1517.3 93.8h0M1522 93.5h0M1526.6 93.3h0" fill="none" stroke="#0606f0" stroke-width="5.4" stroke-linecap="round"/>
<rect x="901.3" y="67.9" width="625.3" height="503.7" fill="none" stroke="#222" stroke-width="1.3"/>
<text transform="translate(882.2,77.6) scale(0.93,1)" text-anchor="end" font-size="24.8">10<tspan font-size="15.6" dy="-11.4">-5</tspan></text>
<text transform="translate(882.2,133.6) scale(0.93,1)" text-anchor="end" font-size="24.8">10<tspan font-size="15.6" dy="-11.4">-6</tspan></text>
<text transform="translate(882.2,189.5) scale(0.93,1)" text-anchor="end" font-size="24.8">10<tspan font-size="15.6" dy="-11.4">-7</tspan></text>
<text transform="translate(882.2,245.5) scale(0.93,1)" text-anchor="end" font-size="24.8">10<tspan font-size="15.6" dy="-11.4">-8</tspan></text>
<text transform="translate(882.2,301.5) scale(0.93,1)" text-anchor="end" font-size="24.8">10<tspan font-size="15.6" dy="-11.4">-9</tspan></text>
<text transform="translate(882.2,357.4) scale(0.93,1)" text-anchor="end" font-size="24.8">10<tspan font-size="15.6" dy="-11.4">-10</tspan></text>
<text transform="translate(882.2,413.4) scale(0.93,1)" text-anchor="end" font-size="24.8">10<tspan font-size="15.6" dy="-11.4">-11</tspan></text>
<text transform="translate(882.2,469.4) scale(0.93,1)" text-anchor="end" font-size="24.8">10<tspan font-size="15.6" dy="-11.4">-12</tspan></text>
<text transform="translate(882.2,525.3) scale(0.93,1)" text-anchor="end" font-size="24.8">10<tspan font-size="15.6" dy="-11.4">-13</tspan></text>
<text transform="translate(882.2,581.3) scale(0.93,1)" text-anchor="end" font-size="24.8">10<tspan font-size="15.6" dy="-11.4">-14</tspan></text>
<text transform="translate(947.6,611) scale(0.95,1)" text-anchor="middle" font-size="24.8">-10</text>
<text transform="translate(1063.4,611) scale(0.95,1)" text-anchor="middle" font-size="24.8">-5</text>
<text transform="translate(1179.2,611) scale(0.95,1)" text-anchor="middle" font-size="24.8">0</text>
<text transform="translate(1295,611) scale(0.95,1)" text-anchor="middle" font-size="24.8">5</text>
<text transform="translate(1410.8,611) scale(0.95,1)" text-anchor="middle" font-size="24.8">10</text>
<text transform="translate(1526.6,611) scale(0.95,1)" text-anchor="middle" font-size="24.8">15</text>
<path d="M888.8 67.9H901.3M888.8 123.9H901.3M888.8 179.8H901.3M888.8 235.8H901.3M888.8 291.8H901.3M888.8 347.7H901.3M888.8 403.7H901.3M888.8 459.7H901.3M888.8 515.6H901.3M888.8 571.6H901.3M894.8 107H901.3M894.8 97.2H901.3M894.8 90.2H901.3M894.8 84.7H901.3M894.8 80.3H901.3M894.8 76.6H901.3M894.8 73.3H901.3M894.8 70.5H901.3M894.8 163H901.3M894.8 153.1H901.3M894.8 146.1H901.3M894.8 140.7H901.3M894.8 136.3H901.3M894.8 132.5H901.3M894.8 129.3H901.3M894.8 126.4H901.3M894.8 219H901.3M894.8 209.1H901.3M894.8 202.1H901.3M894.8 196.7H901.3M894.8 192.2H901.3M894.8 188.5H901.3M894.8 185.3H901.3M894.8 182.4H901.3M894.8 274.9H901.3M894.8 265.1H901.3M894.8 258.1H901.3M894.8 252.6H901.3M894.8 248.2H901.3M894.8 244.5H901.3M894.8 241.2H901.3M894.8 238.4H901.3M894.8 330.9H901.3M894.8 321H901.3M894.8 314H901.3M894.8 308.6H901.3M894.8 304.2H901.3M894.8 300.4H901.3M894.8 297.2H901.3M894.8 294.3H901.3M894.8 386.9H901.3M894.8 377H901.3M894.8 370H901.3M894.8 364.6H901.3M894.8 360.1H901.3M894.8 356.4H901.3M894.8 353.2H901.3M894.8 350.3H901.3M894.8 442.8H901.3M894.8 433H901.3M894.8 426H901.3M894.8 420.5H901.3M894.8 416.1H901.3M894.8 412.4H901.3M894.8 409.1H901.3M894.8 406.3H901.3M894.8 498.8H901.3M894.8 488.9H901.3M894.8 481.9H901.3M894.8 476.5H901.3M894.8 472.1H901.3M894.8 468.3H901.3M894.8 465.1H901.3M894.8 462.2H901.3M894.8 554.8H901.3M894.8 544.9H901.3M894.8 537.9H901.3M894.8 532.5H901.3M894.8 528H901.3M894.8 524.3H901.3M894.8 521.1H901.3M894.8 518.2H901.3M901.3 571.6V577.6M924.5 571.6V577.6M947.6 571.6V583.6M970.8 571.6V577.6M993.9 571.6V577.6M1017.1 571.6V577.6M1040.3 571.6V577.6M1063.4 571.6V583.6M1086.6 571.6V577.6M1109.7 571.6V577.6M1132.9 571.6V577.6M1156.1 571.6V577.6M1179.2 571.6V583.6M1202.4 571.6V577.6M1225.5 571.6V577.6M1248.7 571.6V577.6M1271.8 571.6V577.6M1295 571.6V583.6M1318.2 571.6V577.6M1341.3 571.6V577.6M1364.5 571.6V577.6M1387.6 571.6V577.6M1410.8 571.6V583.6M1434 571.6V577.6M1457.1 571.6V577.6M1480.3 571.6V577.6M1503.4 571.6V577.6M1526.6 571.6V583.6" stroke="#222" stroke-width="1.3" fill="none"/>
<clipPath id="clipB"><rect x="901" y="68.4" width="626" height="503"/></clipPath>
<text clip-path="url(#clipB)" x="1302.5" y="85" font-size="24.5" font-weight="bold" font-style="italic" style="fill:#1616de">V<tspan font-size="17" dy="6.5" dx="-1.5">PG</tspan><tspan dy="-6.5" dx="-3.1" font-style="normal"> =</tspan><tspan dx="-0.6" font-style="normal"> 10V</tspan></text>
<text x="1311" y="329" font-size="24.5" font-weight="bold" font-style="italic" style="fill:#1616de">V<tspan font-size="17" dy="6.5" dx="-1.5">PG</tspan><tspan dy="-6.5" dx="-3.1" font-style="normal"> =</tspan><tspan dx="-0.6" font-style="normal"> 2V</tspan></text>
<path d="M906 99H961" stroke="#0606f0" stroke-width="1.3" stroke-opacity="0.45" fill="none"/><circle cx="933.5" cy="99" r="3" fill="#0606f0"/>
<text x="966" y="100" font-size="24.6"><tspan font-style="italic">I<tspan font-size="17" dy="6.5">ds</tspan></tspan><tspan dy="-6.5" dx="-3.5"> , with </tspan><tspan font-style="italic" dx="1.5">V<tspan font-size="17" dy="6.5">PG</tspan></tspan><tspan dy="-6.5" dx="1.5"> from 2 to 10V</tspan></text>
<text x="1009" y="129.5" font-size="24.6">in 2V steps</text>
<text x="1141" y="525.5" font-size="24.8">Leakage currents, |<tspan font-style="italic">I<tspan font-size="17" dy="6.5">cg</tspan></tspan><tspan dy="-6.5">|, |</tspan><tspan font-style="italic">I<tspan font-size="17" dy="6.5">pg</tspan></tspan><tspan dy="-6.5">|</tspan></text>
<text x="1214.4" y="655.8" text-anchor="middle" font-size="28.3"><tspan font-style="italic">V<tspan font-size="18.5" dy="9.5" dx="-1">CG</tspan></tspan><tspan dy="-9.5"> (V)</tspan></text>
<text transform="translate(807.8,319) rotate(-90)" text-anchor="middle" font-size="29.5"><tspan font-style="italic">I<tspan font-size="19.5" dy="9.6">ds</tspan></tspan><tspan dy="-9.6"> , |</tspan><tspan font-style="italic">I<tspan font-size="19.5" dy="9.6">pg</tspan></tspan><tspan dy="-9.6">|, |</tspan><tspan font-style="italic">I<tspan font-size="19.5" dy="9.6">cg</tspan></tspan><tspan dy="-9.6">| (A)</tspan></text>
<text x="860.3" y="27.5" font-size="37" font-weight="bold">b</text>
<circle cx="923.6" cy="501.6" r="14" fill="#8c1111" fill-opacity="0.68"/>
<rect x="909" y="467" width="57" height="60.5" fill="none" stroke="#5e0a60" stroke-width="2.8" stroke-dasharray="9 4.5"/>
<path d="M926.3 527.8V652.5" stroke="#5e0a60" stroke-width="5" stroke-dasharray="18 16 4.5 15" fill="none"/>
<path d="M926.3 682.8L914 660.5L926.3 669L938.6 660.5Z" fill="#5e0a60"/>
<circle cx="1504" cy="98" r="14" fill="#ecec10" fill-opacity="0.82"/>
<rect x="1460" y="73" width="59" height="62" fill="none" stroke="#eec41e" stroke-width="2.8" stroke-dasharray="9 4.5"/>
<path d="M1489.3 136.2V655" stroke="#ecca35" stroke-width="4.9" stroke-dasharray="18.6 15 4.5 15.2" fill="none"/>
<path d="M1489.4 684.1L1477.6 662.2L1489.4 669L1501.2 662.2Z" fill="#ecca35"/>
</g>
<g id="schem">
<rect x="470.6" y="229.5" width="47.4" height="33.5" fill="#ffff00"/>
<rect x="590.3" y="229.5" width="47.4" height="33.5" fill="#ffff00"/>
<rect x="492.7" y="256.7" width="121.3" height="6.5" fill="#17a556"/>
<rect x="466" y="263" width="179" height="9" fill="#bcd4ee"/>
<rect x="466" y="271.8" width="179" height="23.8" fill="#d9d9d9"/>
<rect x="466" y="295.5" width="179" height="18.2" fill="#595959"/>
<rect x="488.2" y="272.2" width="44.8" height="15.5" fill="#70107a"/>
<rect x="575.9" y="272.2" width="44.5" height="15.5" fill="#70107a"/>
<path d="M515 287.3H674.9V315.8M657 315.8H693.5M666.2 327H684.2M674.9 327V354" stroke="#000" stroke-width="5" fill="none"/>
<circle cx="515" cy="287.3" r="5.8"/><circle cx="595.9" cy="287.3" r="5.8"/><circle cx="674.9" cy="287.3" r="5.8"/>
<path d="M666.4 354.3H683.4L674.9 365.6Z" fill="#fff" stroke="#000" stroke-width="3.1" stroke-linejoin="miter"/>
<path d="M558.7 309.6V338.4M540.8 338.4H576.3M550.5 350.2H567.6M558.7 350.2V376.5" stroke="#000" stroke-width="5" fill="none"/>
<circle cx="558.7" cy="309.6" r="5.8"/>
<path d="M550.3 376.8H567.1L558.7 388.8Z" fill="#fff" stroke="#000" stroke-width="3.1"/>
<path d="M544.5 361L574.5 327" stroke="#000" stroke-width="2.8" fill="none"/><path d="M579.3 321.5L576.8 331.5L570 325.5Z" fill="#000"/>
<text transform="translate(503,222.3) scale(0.915,1)" font-size="30.5" style="font-family:'Liberation Sans', sans-serif;fill:#000" stroke="#000" stroke-width="1">V<tspan font-size="21" dy="6.5">DS</tspan><tspan dy="-6.5"> = 1V</tspan></text>
<text x="477.5" y="252.6" font-size="24" style="font-family:'Liberation Sans', sans-serif;fill:#000" stroke="#000" stroke-width="0.9">S</text>
<text x="617.5" y="252.6" font-size="24" style="font-family:'Liberation Sans', sans-serif;fill:#000" stroke="#000" stroke-width="0.9">D</text>
<text x="580.5" y="348" font-size="27" font-weight="bold" style="font-family:'Liberation Sans', sans-serif;fill:#000" stroke="#000" stroke-width="1.1" stroke-linejoin="round">V<tspan font-size="18.5" dy="9" stroke-width="0.6">CG</tspan></text>
<text x="687.5" y="309.6" font-size="27" font-weight="bold" style="font-family:'Liberation Sans', sans-serif;fill:#000" stroke="#000" stroke-width="1.1" stroke-linejoin="round">V<tspan font-size="18.5" dy="8" stroke-width="0.6">PG</tspan></text>
</g>
<defs>
<linearGradient id="gb" x1="0" y1="0" x2="0" y2="1"><stop offset="0" stop-color="#e8edfc" stop-opacity="0"/><stop offset="0.16" stop-color="#e9eefc" stop-opacity="1"/><stop offset="0.62" stop-color="#dfe6fb" stop-opacity="1"/><stop offset="0.84" stop-color="#b3c5f6" stop-opacity="1"/><stop offset="1" stop-color="#86a3f2" stop-opacity="1"/></linearGradient>
<linearGradient id="go" x1="0" y1="0" x2="0" y2="1"><stop offset="0" stop-color="#f8c8a4" stop-opacity="1"/><stop offset="0.35" stop-color="#fbdfcb" stop-opacity="1"/><stop offset="0.7" stop-color="#fdeee3" stop-opacity="0.8"/><stop offset="1" stop-color="#ffffff" stop-opacity="0"/></linearGradient>
<filter id="bl3" x="-20%" y="-50%" width="140%" height="200%"><feGaussianBlur stdDeviation="2.2"/></filter>
<filter id="bl2" x="-20%" y="-50%" width="140%" height="200%"><feGaussianBlur stdDeviation="1.5"/></filter>
</defs>
<g id="panelC">
<rect x="59.4" y="688.6" width="373" height="372.1" fill="none" stroke="#0a7a0a" stroke-width="4.8" stroke-linejoin="round"/>
<rect x="67.5" y="810.5" width="67.9" height="49" fill="url(#gb)"/>
<rect x="67.5" y="859.5" width="67.9" height="66" fill="url(#go)"/>
<path d="M67.5 859.5H135.4" stroke="#0a0a0a" stroke-width="4.4" fill="none"/>
<rect x="356.6" y="841" width="68.4" height="49" fill="url(#gb)"/>
<rect x="356.6" y="890" width="68.4" height="66" fill="url(#go)"/>
<path d="M356.6 890H425" stroke="#0a0a0a" stroke-width="4.4" fill="none"/>
<path d="M186 892L312 918C332 922 345 933 352 948" stroke="#f4a86c" stroke-width="5" fill="none" filter="url(#bl3)" opacity="0.8"/>
<path d="M178.8 713.2h4.6v4.6h-4.6zM178.8 733h4.6v4.6h-4.6zM178.8 752.7h4.6v4.6h-4.6zM178.8 772.5h4.6v4.6h-4.6zM178.8 792.2h4.6v4.6h-4.6zM178.8 812h4.6v4.6h-4.6zM178.8 831.7h4.6v4.6h-4.6zM178.8 871.2h4.6v4.6h-4.6zM178.8 891h4.6v4.6h-4.6zM178.8 910.7h4.6v4.6h-4.6zM178.8 930.5h4.6v4.6h-4.6zM178.8 950.2h4.6v4.6h-4.6zM178.8 970h4.6v4.6h-4.6z" fill="#111"/>
<path d="M310.1 713.2h4.6v4.6h-4.6zM310.1 733h4.6v4.6h-4.6zM310.1 752.7h4.6v4.6h-4.6zM310.1 772.5h4.6v4.6h-4.6zM310.1 792.2h4.6v4.6h-4.6zM310.1 812h4.6v4.6h-4.6zM310.1 831.7h4.6v4.6h-4.6zM310.1 851.5h4.6v4.6h-4.6zM310.1 871.2h4.6v4.6h-4.6zM310.1 910.7h4.6v4.6h-4.6zM310.1 930.5h4.6v4.6h-4.6zM310.1 950.2h4.6v4.6h-4.6zM310.1 970h4.6v4.6h-4.6z" fill="#111"/>
<path d="M135.4 937V797C136 773 158 757.5 181.1 755.4L312.2 781.4C338 786 356.6 806 356.6 833.4V965" stroke="#0a0a0a" stroke-width="4.5" fill="none" stroke-linejoin="round" stroke-linecap="butt"/>
<path d="M135.4 937C137 910 156 890 181.1 886.5L312.2 913.3C337 917 355 935 356.6 965" stroke="#0a0a0a" stroke-width="4.5" fill="none" stroke-linejoin="round" stroke-linecap="butt"/>
<text x="70.6" y="719.2" font-size="37" font-weight="bold" text-anchor="start" style="fill:#111">c</text>
<text x="144.2" y="737" font-size="19.4" font-weight="bold" text-anchor="start" style="fill:#111">PG</text>
<text x="238.3" y="737" font-size="19.4" font-weight="bold" text-anchor="start" style="fill:#111">CG</text>
<text x="321.2" y="737" font-size="19.4" font-weight="bold" text-anchor="start" style="fill:#111">PG</text>
<text x="67.6" y="882.5" font-size="20.6" font-weight="bold" text-anchor="start" style="fill:#111">Source</text>
<text x="366.8" y="909.2" font-size="20.2" font-weight="bold" text-anchor="start" style="fill:#111">Drain</text>
<text x="77.2" y="802.6" font-size="22" font-weight="bold" style="fill:#3366ee">e<tspan font-size="17" dy="-8.3" dx="2.2">-</tspan></text>
<path d="M72.7 851.6C72.5 828 88 809 112 808.6" stroke="#3366ee" stroke-width="5.6" fill="none"/>
<path d="M101.3 792.5L129.9 824.9M99.4 821.6L134.1 797.2" stroke="#3366ee" stroke-width="6.8" fill="none"/>
<path d="M373.5 916C366 938 346 950 321 946" stroke="#e2701c" stroke-width="6.6" fill="none"/>
<path d="M300.3 939.6L323.8 936.8L321 945.7L317.2 956.5Z" fill="#e2701c"/>
<text x="379" y="941.9" font-size="25.5" font-weight="bold" style="fill:#e2701c">h<tspan font-size="18" dy="-8.5" dx="1">+</tspan></text>
</g>
<g id="panelD">
<rect x="438.3" y="688.6" width="372.3" height="372.1" fill="none" stroke="#f20a0a" stroke-width="4.8" stroke-linejoin="round"/>
<rect x="444.3" y="810.8" width="65.6" height="49" fill="url(#gb)"/>
<rect x="444.3" y="859.8" width="65.6" height="66" fill="url(#go)"/>
<path d="M444.3 859.8H509.9" stroke="#0a0a0a" stroke-width="4.4" fill="none"/>
<rect x="739.5" y="834.8" width="66.2" height="49" fill="url(#gb)"/>
<rect x="739.5" y="883.8" width="66.2" height="66" fill="url(#go)"/>
<path d="M739.5 883.8H805.7" stroke="#0a0a0a" stroke-width="4.4" fill="none"/>
<path d="M683 916C690 911 700 912 712 918C722 923 730 931 735 942" stroke="#f29a55" stroke-width="5" fill="none" filter="url(#bl3)"/>
<path d="M554.4 725.3h4.6v4.6h-4.6zM554.4 744.6h4.6v4.6h-4.6zM554.4 763.8h4.6v4.6h-4.6zM554.4 783.1h4.6v4.6h-4.6zM554.4 802.3h4.6v4.6h-4.6zM554.4 821.6h4.6v4.6h-4.6zM554.4 840.8h4.6v4.6h-4.6zM554.4 860.1h4.6v4.6h-4.6zM554.4 879.3h4.6v4.6h-4.6zM554.4 898.6h4.6v4.6h-4.6zM554.4 917.8h4.6v4.6h-4.6zM554.4 937.1h4.6v4.6h-4.6zM554.4 956.3h4.6v4.6h-4.6zM554.4 975.6h4.6v4.6h-4.6z" fill="#111"/>
<path d="M690.7 725.3h4.6v4.6h-4.6zM690.7 744.6h4.6v4.6h-4.6zM690.7 763.8h4.6v4.6h-4.6zM690.7 783.1h4.6v4.6h-4.6zM690.7 802.3h4.6v4.6h-4.6zM690.7 821.6h4.6v4.6h-4.6zM690.7 840.8h4.6v4.6h-4.6zM690.7 860.1h4.6v4.6h-4.6zM690.7 879.3h4.6v4.6h-4.6zM690.7 898.6h4.6v4.6h-4.6zM690.7 917.8h4.6v4.6h-4.6zM690.7 937.1h4.6v4.6h-4.6zM690.7 956.3h4.6v4.6h-4.6zM690.7 975.6h4.6v4.6h-4.6z" fill="#111"/>
<path d="M509.9 935V802C511 778 532 762 553 758.5C572 757 572 784 579.7 788.8L667 810.4C678 811 674 781 693 779.6C722 781 739.5 800 739.5 829.7V957" stroke="#0a0a0a" stroke-width="4.5" fill="none" stroke-linejoin="round" stroke-linecap="butt"/>
<path d="M509.9 935C512 910 532 891 554 886.8C573 885 572 911 579.7 915.9L665.5 940.4C679 942 674 910 693 908.8C718 910 737 930 739.5 957" stroke="#0a0a0a" stroke-width="4.5" fill="none" stroke-linejoin="round" stroke-linecap="butt"/>
<text x="445.4" y="723.4" font-size="37" font-weight="bold" text-anchor="start" style="fill:#111">d</text>
<text x="518.4" y="741.7" font-size="19.4" font-weight="bold" text-anchor="start" style="fill:#111">PG</text>
<text x="611.3" y="741.7" font-size="19.4" font-weight="bold" text-anchor="start" style="fill:#111">CG</text>
<text x="704" y="741.7" font-size="19.4" font-weight="bold" text-anchor="start" style="fill:#111">PG</text>
<text x="444.3" y="882.4" font-size="20.6" font-weight="bold" text-anchor="start" style="fill:#111">Source</text>
<text x="748" y="906.7" font-size="20.2" font-weight="bold" text-anchor="start" style="fill:#111">Drain</text>
<text x="453.2" y="804.2" font-size="22" font-weight="bold" style="fill:#3366ee">e<tspan font-size="17" dy="-8.3" dx="2.2">-</tspan></text>
<path d="M448.7 851.6C448.5 829 464 811.5 487 810.8" stroke="#3366ee" stroke-width="5.6" fill="none"/>
<path d="M477.3 794.9L503.5 826.3M475.4 823.5L507.8 798.6" stroke="#3366ee" stroke-width="6.8" fill="none"/>
<path d="M748 911.4C745 933 726 945 700 939" stroke="#e2701c" stroke-width="5" fill="none"/>
<path d="M676.2 945.7L713.3 930.5M687.6 921.4L702.9 957.1" stroke="#e2701c" stroke-width="7.4" fill="none"/>
<text x="751.9" y="937.1" font-size="25.5" font-weight="bold" style="fill:#e2701c">h<tspan font-size="18" dy="-8.5" dx="1">+</tspan></text>
</g>
<g id="panelE">
<rect x="818.4" y="688.6" width="373.1" height="372.1" fill="none" stroke="#5e0a60" stroke-width="4.8" stroke-linejoin="round"/>
<rect x="827.4" y="810.8" width="64.8" height="49" fill="url(#gb)"/>
<rect x="827.4" y="859.8" width="64.8" height="66" fill="url(#go)"/>
<path d="M827.4 859.8H892.2" stroke="#0a0a0a" stroke-width="4.4" fill="none"/>
<rect x="1117" y="836.6" width="64.8" height="49" fill="url(#gb)"/>
<rect x="1117" y="885.6" width="64.8" height="66" fill="url(#go)"/>
<path d="M1117 885.6H1181.8" stroke="#0a0a0a" stroke-width="4.4" fill="none"/>
<clipPath id="wellE"><path d="M892.2 805C894 828 912 848 936 852.4C957 852 953 824 963.4 821.5V800H892.2Z"/></clipPath>
<linearGradient id="gw" x1="0" y1="0" x2="0" y2="1"><stop offset="0" stop-color="#c9d5f8" stop-opacity="0"/><stop offset="0.45" stop-color="#c9d5f8" stop-opacity="0.85"/><stop offset="1" stop-color="#8ea9f3" stop-opacity="1"/></linearGradient>
<rect x="890" y="820" width="76" height="34" fill="url(#gw)" clip-path="url(#wellE)"/>
<path d="M936.1 786.1h4.6v4.6h-4.6zM936.1 805h4.6v4.6h-4.6zM936.1 823.9h4.6v4.6h-4.6zM936.1 842.8h4.6v4.6h-4.6zM936.1 861.7h4.6v4.6h-4.6zM936.1 880.6h4.6v4.6h-4.6zM936.1 899.5h4.6v4.6h-4.6zM936.1 918.4h4.6v4.6h-4.6zM936.1 937.3h4.6v4.6h-4.6zM936.1 956.2h4.6v4.6h-4.6zM936.1 975.1h4.6v4.6h-4.6zM936.1 994h4.6v4.6h-4.6zM936.1 1012.9h4.6v4.6h-4.6zM936.1 1031.8h4.6v4.6h-4.6z" fill="#111"/>
<path d="M1064 786.1h4.6v4.6h-4.6zM1064 805h4.6v4.6h-4.6zM1064 823.9h4.6v4.6h-4.6zM1064 842.8h4.6v4.6h-4.6zM1064 861.7h4.6v4.6h-4.6zM1064 880.6h4.6v4.6h-4.6zM1064 899.5h4.6v4.6h-4.6zM1064 918.4h4.6v4.6h-4.6zM1064 937.3h4.6v4.6h-4.6zM1064 956.2h4.6v4.6h-4.6zM1064 975.1h4.6v4.6h-4.6zM1064 994h4.6v4.6h-4.6zM1064 1012.9h4.6v4.6h-4.6zM1064 1031.8h4.6v4.6h-4.6z" fill="#111"/>
<path d="M892.2 805V934C894 956 912 974 936 978.3C957 978 953 950 963.4 947.8L1050 972C1060 976 1056 1000 1069.3 1000.6C1096 996 1114 982 1117 956V829" stroke="#0a0a0a" stroke-width="4.5" fill="none" stroke-linejoin="round" stroke-linecap="butt"/>
<path d="M892.2 805C894 828 912 848 936 852.4C957 852 953 824 963.4 821.5L1045 844.6C1056 848 1054 874 1069.3 875C1096 871 1114 856 1117 829" stroke="#0a0a0a" stroke-width="4.5" fill="none" stroke-linejoin="round" stroke-linecap="butt"/>
<text x="826.3" y="723.6" font-size="37.5" font-weight="bold" text-anchor="start" style="fill:#111">e</text>
<text x="902.6" y="796.6" font-size="19.4" font-weight="bold" text-anchor="start" style="fill:#111">PG</text>
<text x="988.3" y="796.6" font-size="19.4" font-weight="bold" text-anchor="start" style="fill:#111">CG</text>
<text x="1075.6" y="796.6" font-size="19.4" font-weight="bold" text-anchor="start" style="fill:#111">PG</text>
<text x="826.9" y="881" font-size="20.6" font-weight="bold" text-anchor="start" style="fill:#111">Source</text>
<text x="1125.8" y="907.6" font-size="20.2" font-weight="bold" text-anchor="start" style="fill:#111">Drain</text>
<text x="864.3" y="827.6" font-size="22" font-weight="bold" style="fill:#3366ee">e<tspan font-size="17" dy="-8.3" dx="2.2">-</tspan></text>
<path d="M880 853C883 830 900 821 915 822.5C922 823.5 928 825 932 827" stroke="#3366ee" stroke-width="5.6" fill="none"/>
<path d="M924.8 808.1L939 845.2M914.3 833.8L950.5 819" stroke="#3366ee" stroke-width="7" fill="none"/>
<path d="M1173.9 913.8C1180 935 1168 955 1139 958" stroke="#e2701c" stroke-width="4.6" fill="none"/>
<path d="M1121.5 945.3L1149.1 972.9M1119.8 971.8L1148.6 944.8" stroke="#e2701c" stroke-width="7" fill="none"/>
<text x="1158.1" y="972.3" font-size="25.5" font-weight="bold" style="fill:#e2701c">h<tspan font-size="18" dy="-8.5" dx="1">+</tspan></text>
</g>
<g id="panelF">
<rect x="1196.9" y="688.6" width="372.9" height="372.1" fill="none" stroke="#ecce38" stroke-width="4.8" stroke-linejoin="round"/>
<rect x="1204.7" y="811" width="65.3" height="49" fill="url(#gb)"/>
<rect x="1204.7" y="860" width="65.3" height="66" fill="url(#go)"/>
<path d="M1204.7 860H1270" stroke="#0a0a0a" stroke-width="4.4" fill="none"/>
<rect x="1497.8" y="843.6" width="64.2" height="49" fill="url(#gb)"/>
<rect x="1497.8" y="892.6" width="64.2" height="66" fill="url(#go)"/>
<path d="M1497.8 892.6H1562" stroke="#0a0a0a" stroke-width="4.4" fill="none"/>
<clipPath id="topF"><path d="M1270 700V805C1273 828 1290 846 1315 851.2L1452.5 881.6C1478 877 1495 862 1497.8 836V700Z"/></clipPath>
<path d="M1296 842C1302 846 1308 848.5 1315 850L1452.5 880.5" stroke="#6a8cf1" stroke-width="12" fill="none" filter="url(#bl3)" clip-path="url(#topF)"/>
<path d="M1312.3 782.9h4.6v4.6h-4.6zM1312.3 801.9h4.6v4.6h-4.6zM1312.3 820.9h4.6v4.6h-4.6zM1312.3 839.9h4.6v4.6h-4.6zM1312.3 858.9h4.6v4.6h-4.6zM1312.3 877.9h4.6v4.6h-4.6zM1312.3 896.9h4.6v4.6h-4.6zM1312.3 915.9h4.6v4.6h-4.6zM1312.3 934.9h4.6v4.6h-4.6zM1312.3 953.9h4.6v4.6h-4.6zM1312.3 972.9h4.6v4.6h-4.6zM1312.3 991.9h4.6v4.6h-4.6zM1312.3 1010.9h4.6v4.6h-4.6zM1312.3 1029.9h4.6v4.6h-4.6z" fill="#111"/>
<path d="M1450.2 784.7h4.6v4.6h-4.6zM1450.2 803.7h4.6v4.6h-4.6zM1450.2 822.7h4.6v4.6h-4.6zM1450.2 841.7h4.6v4.6h-4.6zM1450.2 860.7h4.6v4.6h-4.6zM1450.2 879.7h4.6v4.6h-4.6zM1450.2 898.7h4.6v4.6h-4.6zM1450.2 917.7h4.6v4.6h-4.6zM1450.2 936.7h4.6v4.6h-4.6zM1450.2 955.7h4.6v4.6h-4.6zM1450.2 974.7h4.6v4.6h-4.6zM1450.2 993.7h4.6v4.6h-4.6zM1450.2 1012.7h4.6v4.6h-4.6zM1450.2 1031.7h4.6v4.6h-4.6z" fill="#111"/>
<path d="M1270 805V932C1272 956 1290 973 1314.6 978.8L1452.5 1009C1478 1004 1495 990 1497.8 964V835.5" stroke="#0a0a0a" stroke-width="4.5" fill="none" stroke-linejoin="round" stroke-linecap="butt"/>
<path d="M1270 805C1273 828 1290 846 1314.6 851L1452.5 881.6C1478 877 1495 862 1497.8 835.5" stroke="#0a0a0a" stroke-width="4.5" fill="none" stroke-linejoin="round" stroke-linecap="butt"/>
<text x="1205" y="726.7" font-size="37" font-weight="bold" text-anchor="start" style="fill:#111">f</text>
<text x="1280" y="797" font-size="19.4" font-weight="bold" text-anchor="start" style="fill:#111">PG</text>
<text x="1370" y="797" font-size="19.4" font-weight="bold" text-anchor="start" style="fill:#111">CG</text>
<text x="1464" y="797" font-size="19.4" font-weight="bold" text-anchor="start" style="fill:#111">PG</text>
<text x="1204.7" y="882.4" font-size="20.6" font-weight="bold" text-anchor="start" style="fill:#111">Source</text>
<text x="1506.4" y="915.1" font-size="20.2" font-weight="bold" text-anchor="start" style="fill:#111">Drain</text>
<text x="1237.9" y="817.3" font-size="22" font-weight="bold" style="fill:#3366ee">e<tspan font-size="17" dy="-8.3" dx="2.2">-</tspan></text>
<path d="M1237 850.5C1244 826 1266 814.5 1292 821" stroke="#3366ee" stroke-width="7.4" fill="none"/>
<path d="M1310.6 828.3L1293.5 811L1288.3 832.5Z" fill="#3366ee"/>
<path d="M1554.5 919C1560 940 1550 960 1522 963.5" stroke="#e2701c" stroke-width="4.6" fill="none"/>
<path d="M1501.6 950.4L1528.6 978M1500.5 976.8L1528.6 950.4" stroke="#e2701c" stroke-width="7" fill="none"/>
<text x="1538.8" y="977.4" font-size="25.5" font-weight="bold" style="fill:#e2701c">h<tspan font-size="18" dy="-8.5" dx="1">+</tspan></text>
</g>
</svg>
</body></html>
